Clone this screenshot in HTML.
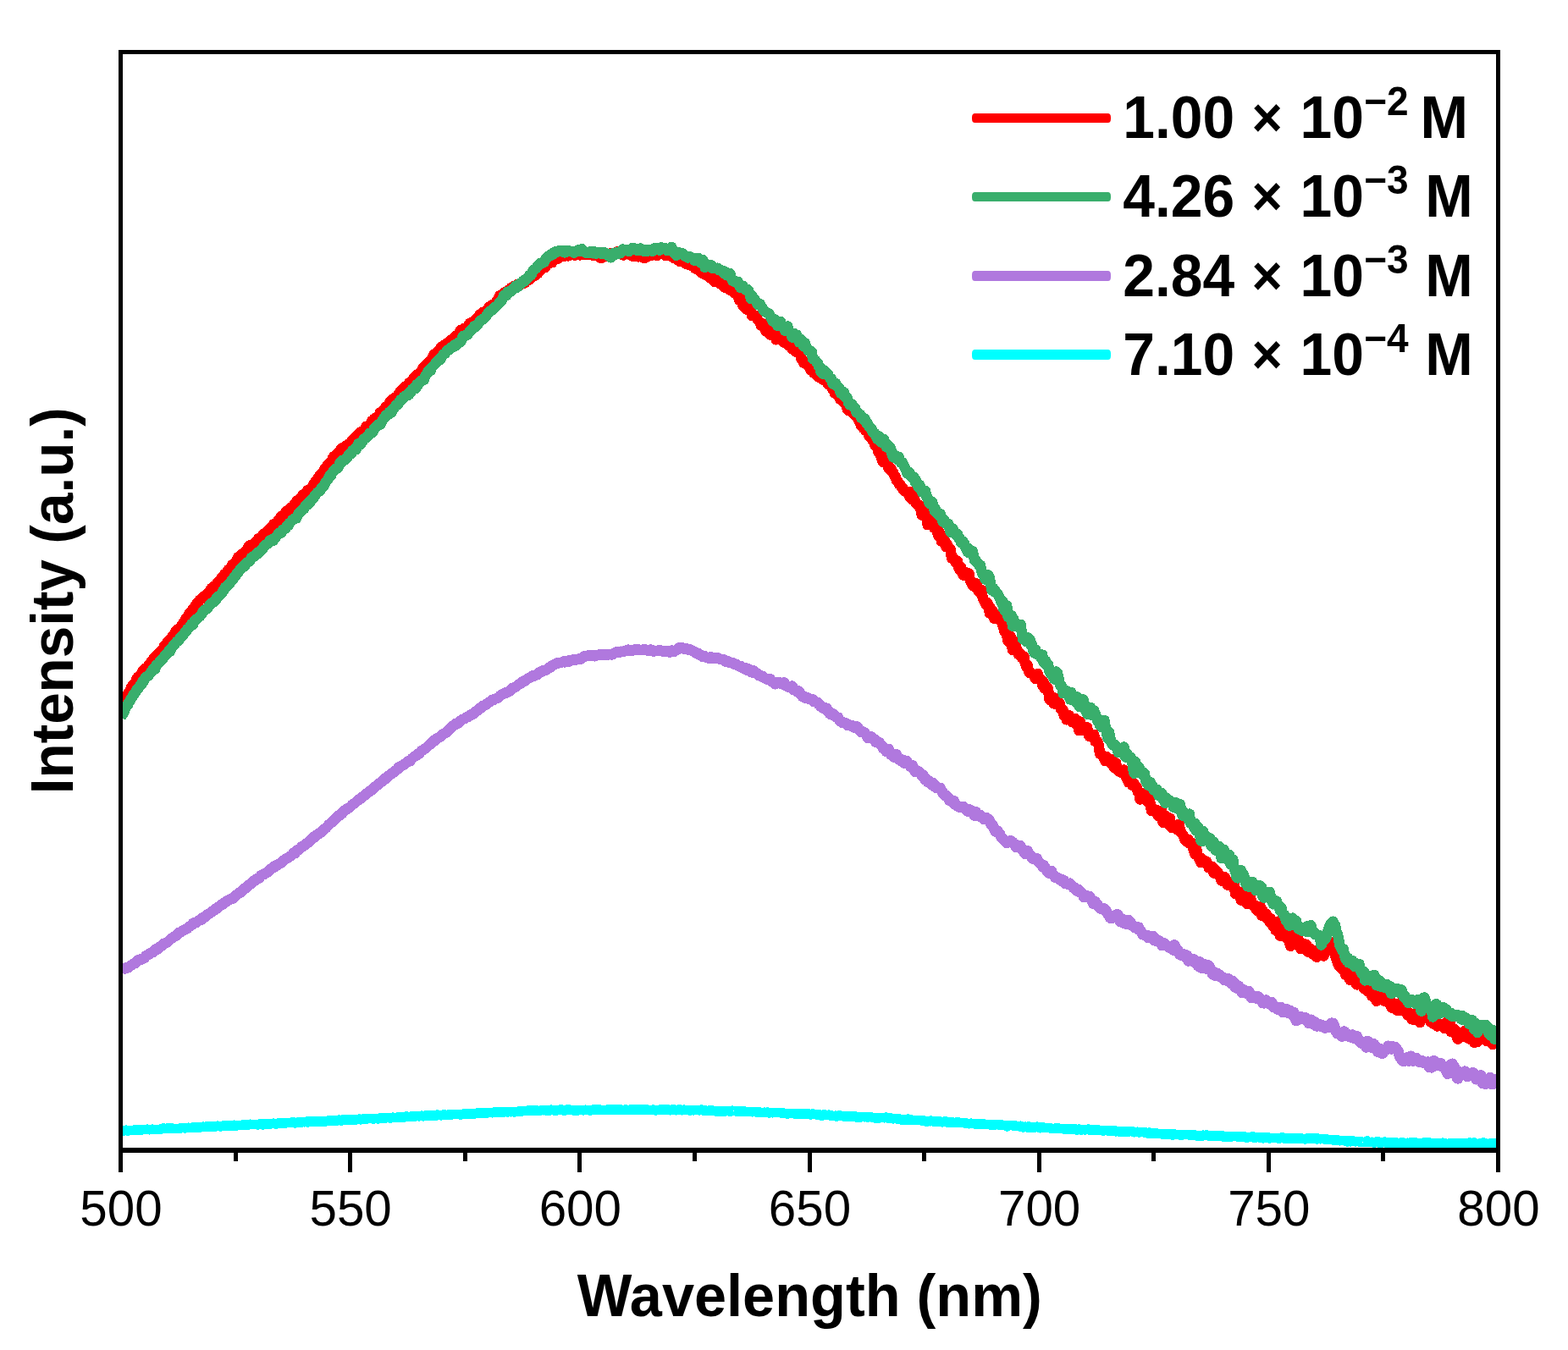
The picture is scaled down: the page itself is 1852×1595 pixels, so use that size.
<!DOCTYPE html>
<html lang="en"><head><meta charset="utf-8"><title>Emission spectra</title>
<style>html,body{margin:0;padding:0;background:#fff;}svg{display:block;}text{font-family:"Liberation Sans",sans-serif;fill:#000;}.b{font-weight:bold;}</style></head><body>
<svg width="1852" height="1595" viewBox="0 0 1852 1595" role="img" aria-label="Emission spectra at four concentrations">
<rect x="0" y="0" width="1852" height="1595" fill="#fff"/>
<defs><clipPath id="plot"><rect x="142.5" y="61.5" width="1627.0" height="1297.5"/></clipPath></defs>
<g clip-path="url(#plot)" fill="none" stroke-linejoin="round" stroke-linecap="butt" stroke-width="11.5" shape-rendering="crispEdges">
<path stroke="#ff0000" stroke-width="12.5" d="M142.5,836.4 L143.9,833.1 L145.2,830.2 L146.6,826.0 L147.9,825.0 L149.3,822.9 L150.6,820.3 L152.0,818.5 L153.3,816.4 L154.7,813.0 L156.1,810.6 L157.4,808.7 L158.8,807.6 L160.1,805.7 L161.5,802.2 L162.8,799.9 L164.2,799.4 L165.5,798.6 L166.9,795.8 L168.3,793.2 L169.6,792.7 L171.0,790.4 L172.3,789.3 L173.7,788.6 L175.0,786.6 L176.4,784.4 L177.8,783.3 L179.1,780.9 L180.5,779.5 L181.8,777.8 L183.2,776.5 L184.5,774.9 L185.9,773.5 L187.2,771.9 L188.6,770.6 L190.0,769.1 L191.3,767.7 L192.7,766.9 L194.0,763.2 L195.4,763.0 L196.7,760.9 L198.1,758.0 L199.4,756.9 L200.8,755.7 L202.2,754.8 L203.5,751.6 L204.9,750.4 L206.2,748.9 L207.6,745.7 L208.9,743.9 L210.3,743.7 L211.6,742.5 L213.0,741.1 L214.4,739.0 L215.7,737.0 L217.1,735.0 L218.4,733.9 L219.8,730.7 L221.1,728.9 L222.5,727.6 L223.8,724.2 L225.2,724.1 L226.6,721.3 L227.9,719.4 L229.3,719.5 L230.6,715.9 L232.0,713.6 L233.3,713.6 L234.7,710.3 L236.1,708.6 L237.4,708.0 L238.8,706.7 L240.1,705.5 L241.5,704.1 L242.8,703.8 L244.2,702.7 L245.5,701.3 L246.9,699.1 L248.3,697.5 L249.6,695.2 L251.0,695.6 L252.3,692.9 L253.7,692.9 L255.0,692.9 L256.4,689.3 L257.7,687.3 L259.1,685.9 L260.5,685.4 L261.8,682.7 L263.2,681.2 L264.5,679.4 L265.9,677.8 L267.2,677.4 L268.6,674.3 L269.9,672.9 L271.3,671.6 L272.7,670.5 L274.0,667.3 L275.4,667.0 L276.7,665.4 L278.1,664.0 L279.4,661.9 L280.8,658.8 L282.2,657.6 L283.5,657.6 L284.9,655.9 L286.2,654.3 L287.6,654.4 L288.9,653.9 L290.3,650.9 L291.6,650.7 L293.0,646.8 L294.4,644.6 L295.7,645.7 L297.1,644.4 L298.4,643.6 L299.8,642.6 L301.1,640.9 L302.5,640.2 L303.8,638.8 L305.2,636.2 L306.6,635.9 L307.9,635.1 L309.3,635.2 L310.6,632.0 L312.0,630.9 L313.3,629.5 L314.7,628.3 L316.0,628.5 L317.4,626.6 L318.8,624.3 L320.1,623.2 L321.5,622.6 L322.8,619.9 L324.2,618.7 L325.5,619.0 L326.9,617.6 L328.2,615.3 L329.6,613.4 L331.0,612.2 L332.3,609.8 L333.7,610.1 L335.0,608.9 L336.4,607.3 L337.7,604.7 L339.1,603.5 L340.5,603.3 L341.8,602.1 L343.2,600.1 L344.5,599.4 L345.9,598.7 L347.2,596.1 L348.6,594.5 L349.9,592.9 L351.3,591.2 L352.7,591.4 L354.0,590.3 L355.4,588.7 L356.7,586.0 L358.1,584.3 L359.4,583.7 L360.8,582.2 L362.1,581.0 L363.5,579.0 L364.9,578.4 L366.2,578.1 L367.6,576.6 L368.9,575.0 L370.3,572.1 L371.6,570.7 L373.0,568.2 L374.3,567.2 L375.7,564.8 L377.1,562.7 L378.4,560.8 L379.8,560.2 L381.1,558.4 L382.5,556.4 L383.8,553.5 L385.2,552.4 L386.5,549.6 L387.9,549.8 L389.3,547.4 L390.6,545.5 L392.0,543.6 L393.3,540.7 L394.7,538.9 L396.0,538.6 L397.4,538.8 L398.8,535.6 L400.1,533.9 L401.5,533.3 L402.8,530.8 L404.2,529.1 L405.5,528.9 L406.9,528.4 L408.2,527.0 L409.6,527.3 L411.0,525.3 L412.3,524.1 L413.7,524.1 L415.0,523.3 L416.4,519.4 L417.7,518.3 L419.1,518.7 L420.4,515.7 L421.8,514.2 L423.2,512.8 L424.5,511.4 L425.9,510.3 L427.2,510.2 L428.6,510.3 L429.9,509.5 L431.3,507.1 L432.6,503.8 L434.0,503.6 L435.4,502.6 L436.7,501.8 L438.1,500.3 L439.4,497.4 L440.8,497.5 L442.1,494.6 L443.5,493.7 L444.9,493.5 L446.2,492.4 L447.6,491.9 L448.9,487.5 L450.3,487.2 L451.6,486.6 L453.0,484.3 L454.3,483.3 L455.7,480.6 L457.1,480.0 L458.4,478.9 L459.8,476.0 L461.1,474.4 L462.5,473.4 L463.8,471.6 L465.2,471.5 L466.5,469.8 L467.9,469.2 L469.3,468.0 L470.6,465.6 L472.0,463.8 L473.3,461.7 L474.7,460.3 L476.0,459.0 L477.4,458.7 L478.7,456.6 L480.1,455.8 L481.5,454.8 L482.8,452.9 L484.2,451.6 L485.5,451.7 L486.9,450.9 L488.2,447.5 L489.6,445.9 L490.9,444.4 L492.3,443.0 L493.7,443.0 L495.0,441.2 L496.4,439.9 L497.7,438.9 L499.1,435.6 L500.4,433.6 L501.8,432.3 L503.2,431.7 L504.5,429.4 L505.9,428.2 L507.2,427.3 L508.6,425.9 L509.9,423.8 L511.3,421.0 L512.6,418.6 L514.0,419.3 L515.4,418.0 L516.7,415.3 L518.1,413.9 L519.4,412.7 L520.8,410.3 L522.1,410.3 L523.5,408.7 L524.8,407.6 L526.2,407.4 L527.6,405.8 L528.9,405.0 L530.3,404.0 L531.6,402.6 L533.0,401.5 L534.3,402.0 L535.7,399.7 L537.0,399.7 L538.4,396.9 L539.8,396.6 L541.1,395.4 L542.5,393.4 L543.8,390.3 L545.2,392.4 L546.5,390.0 L547.9,388.2 L549.2,388.1 L550.6,387.2 L552.0,386.2 L553.3,384.6 L554.7,382.2 L556.0,382.7 L557.4,380.7 L558.7,380.0 L560.1,379.5 L561.5,379.0 L562.8,376.8 L564.2,375.2 L565.5,374.1 L566.9,371.5 L568.2,370.9 L569.6,369.8 L570.9,368.5 L572.3,368.5 L573.7,367.3 L575.0,367.7 L576.4,367.0 L577.7,362.7 L579.1,362.4 L580.4,360.7 L581.8,360.6 L583.1,359.3 L584.5,358.5 L585.9,356.8 L587.2,355.6 L588.6,353.3 L589.9,349.6 L591.3,348.8 L592.6,348.1 L594.0,347.2 L595.3,345.6 L596.7,346.7 L598.1,344.7 L599.4,344.5 L600.8,342.6 L602.1,343.1 L603.5,340.3 L604.8,340.4 L606.2,338.5 L607.5,339.0 L608.9,339.9 L610.3,336.7 L611.6,335.9 L613.0,336.5 L614.3,335.8 L615.7,334.0 L617.0,335.3 L618.4,334.3 L619.8,334.4 L621.1,333.0 L622.5,330.4 L623.8,329.7 L625.2,330.7 L626.5,327.6 L627.9,326.6 L629.2,326.8 L630.6,326.5 L632.0,325.3 L633.3,322.0 L634.7,323.6 L636.0,321.5 L637.4,319.9 L638.7,318.9 L640.1,317.7 L641.4,315.9 L642.8,315.3 L644.2,315.9 L645.5,312.7 L646.9,309.8 L648.2,311.2 L649.6,310.8 L650.9,310.0 L652.3,310.1 L653.6,307.1 L655.0,306.3 L656.4,306.1 L657.7,306.2 L659.1,305.7 L660.4,303.4 L661.8,301.9 L663.1,302.4 L664.5,301.0 L665.9,302.9 L667.2,301.9 L668.6,301.1 L669.9,300.3 L671.3,302.2 L672.6,301.5 L674.0,300.2 L675.3,300.8 L676.7,300.3 L678.1,300.6 L679.4,301.5 L680.8,300.2 L682.1,300.4 L683.5,300.7 L684.8,301.4 L686.2,301.1 L687.5,300.4 L688.9,299.6 L690.3,300.4 L691.6,299.4 L693.0,300.8 L694.3,300.8 L695.7,301.2 L697.0,300.4 L698.4,299.8 L699.7,299.8 L701.1,302.1 L702.5,301.8 L703.8,301.9 L705.2,300.9 L706.5,302.9 L707.9,300.4 L709.2,304.6 L710.6,304.6 L711.9,304.0 L713.3,302.1 L714.7,301.3 L716.0,302.6 L717.4,301.7 L718.7,301.6 L720.1,302.5 L721.4,302.0 L722.8,298.9 L724.2,298.9 L725.5,299.0 L726.9,299.1 L728.2,297.8 L729.6,297.3 L730.9,298.7 L732.3,299.2 L733.6,300.5 L735.0,299.9 L736.4,301.5 L737.7,298.5 L739.1,297.8 L740.4,299.8 L741.8,299.8 L743.1,299.0 L744.5,300.9 L745.8,302.1 L747.2,302.8 L748.6,301.2 L749.9,301.3 L751.3,302.0 L752.6,302.2 L754.0,303.5 L755.3,302.4 L756.7,303.0 L758.0,300.5 L759.4,303.1 L760.8,305.2 L762.1,303.4 L763.5,303.9 L764.8,300.9 L766.2,301.1 L767.5,299.8 L768.9,301.1 L770.2,301.7 L771.6,299.1 L773.0,298.6 L774.3,298.8 L775.7,302.1 L777.0,300.1 L778.4,299.2 L779.7,299.5 L781.1,299.5 L782.5,299.0 L783.8,297.7 L785.2,298.4 L786.5,301.9 L787.9,301.6 L789.2,300.8 L790.6,300.0 L791.9,301.8 L793.3,303.0 L794.7,302.8 L796.0,305.1 L797.4,304.5 L798.7,305.0 L800.1,307.0 L801.4,307.2 L802.8,308.6 L804.1,307.8 L805.5,307.6 L806.9,309.2 L808.2,309.8 L809.6,311.5 L810.9,311.5 L812.3,311.3 L813.6,312.3 L815.0,313.5 L816.3,311.9 L817.7,313.1 L819.1,314.0 L820.4,316.7 L821.8,315.9 L823.1,318.1 L824.5,316.5 L825.8,318.1 L827.2,321.2 L828.5,320.8 L829.9,323.3 L831.3,320.4 L832.6,322.9 L834.0,325.1 L835.3,325.7 L836.7,324.6 L838.0,328.0 L839.4,325.5 L840.8,329.8 L842.1,331.1 L843.5,332.6 L844.8,331.8 L846.2,330.6 L847.5,331.7 L848.9,332.8 L850.2,335.1 L851.6,334.9 L853.0,336.2 L854.3,337.4 L855.7,339.7 L857.0,335.6 L858.4,337.3 L859.7,340.7 L861.1,342.3 L862.4,341.4 L863.8,342.3 L865.2,344.0 L866.5,345.7 L867.9,346.1 L869.2,347.0 L870.6,347.6 L871.9,350.0 L873.3,354.8 L874.6,353.3 L876.0,356.8 L877.4,360.9 L878.7,360.0 L880.1,364.2 L881.4,362.6 L882.8,365.9 L884.1,365.6 L885.5,364.3 L886.9,368.0 L888.2,373.2 L889.6,371.4 L890.9,373.5 L892.3,373.2 L893.6,374.1 L895.0,378.1 L896.3,379.3 L897.7,381.7 L899.1,384.8 L900.4,382.1 L901.8,382.8 L903.1,385.6 L904.5,391.4 L905.8,389.0 L907.2,388.3 L908.5,391.0 L909.9,395.7 L911.3,392.8 L912.6,392.7 L914.0,394.6 L915.3,397.1 L916.7,401.3 L918.0,396.6 L919.4,394.8 L920.7,399.0 L922.1,401.8 L923.5,397.6 L924.8,400.0 L926.2,404.9 L927.5,403.8 L928.9,405.8 L930.2,406.6 L931.6,408.3 L932.9,409.1 L934.3,409.5 L935.7,412.4 L937.0,410.4 L938.4,411.7 L939.7,415.4 L941.1,413.9 L942.4,414.6 L943.8,415.5 L945.2,416.6 L946.5,424.3 L947.9,424.9 L949.2,428.7 L950.6,429.2 L951.9,429.0 L953.3,429.6 L954.6,432.4 L956.0,433.9 L957.4,437.3 L958.7,435.7 L960.1,438.1 L961.4,440.7 L962.8,440.6 L964.1,441.3 L965.5,444.1 L966.8,445.6 L968.2,445.2 L969.6,445.9 L970.9,445.8 L972.3,448.8 L973.6,449.1 L975.0,446.4 L976.3,449.3 L977.7,453.3 L979.0,454.5 L980.4,452.9 L981.8,457.0 L983.1,459.3 L984.5,460.7 L985.8,464.4 L987.2,462.4 L988.5,464.8 L989.9,465.2 L991.2,469.2 L992.6,472.2 L994.0,472.5 L995.3,474.3 L996.7,472.7 L998.0,476.6 L999.4,475.1 L1000.7,483.3 L1002.1,485.1 L1003.5,479.7 L1004.8,476.7 L1006.2,486.9 L1007.5,486.4 L1008.9,489.8 L1010.2,488.2 L1011.6,491.8 L1012.9,492.9 L1014.3,497.1 L1015.7,497.6 L1017.0,503.2 L1018.4,501.0 L1019.7,506.2 L1021.1,506.6 L1022.4,509.0 L1023.8,506.4 L1025.1,506.5 L1026.5,515.6 L1027.9,514.4 L1029.2,517.2 L1030.6,520.3 L1031.9,521.2 L1033.3,525.8 L1034.6,524.9 L1036.0,526.5 L1037.3,534.2 L1038.7,533.7 L1040.1,538.4 L1041.4,541.5 L1042.8,545.6 L1044.1,545.5 L1045.5,540.7 L1046.8,543.8 L1048.2,547.3 L1049.6,553.6 L1050.9,554.6 L1052.3,553.6 L1053.6,557.3 L1055.0,557.9 L1056.3,561.6 L1057.7,563.4 L1059.0,567.8 L1060.4,568.8 L1061.8,572.1 L1063.1,572.2 L1064.5,575.4 L1065.8,575.8 L1067.2,579.2 L1068.5,580.5 L1069.9,581.0 L1071.2,581.5 L1072.6,583.1 L1074.0,586.7 L1075.3,581.2 L1076.7,589.7 L1078.0,584.2 L1079.4,588.4 L1080.7,591.2 L1082.1,595.3 L1083.4,596.2 L1084.8,596.4 L1086.2,598.0 L1087.5,602.1 L1088.9,608.5 L1090.2,606.0 L1091.6,599.2 L1092.9,603.6 L1094.3,609.3 L1095.6,620.2 L1097.0,613.3 L1098.4,612.8 L1099.7,617.8 L1101.1,620.0 L1102.4,617.1 L1103.8,624.2 L1105.1,621.7 L1106.5,624.7 L1107.9,632.3 L1109.2,628.2 L1110.6,630.7 L1111.9,639.5 L1113.3,637.9 L1114.6,636.1 L1116.0,639.1 L1117.3,646.0 L1118.7,643.0 L1120.1,646.1 L1121.4,647.2 L1122.8,649.9 L1124.1,659.6 L1125.5,660.1 L1126.8,659.9 L1128.2,664.0 L1129.5,663.3 L1130.9,662.6 L1132.3,670.6 L1133.6,673.6 L1135.0,670.0 L1136.3,674.5 L1137.7,679.7 L1139.0,679.2 L1140.4,679.9 L1141.7,676.5 L1143.1,679.8 L1144.5,677.4 L1145.8,686.2 L1147.2,686.8 L1148.5,691.7 L1149.9,688.5 L1151.2,693.1 L1152.6,689.1 L1153.9,692.0 L1155.3,697.6 L1156.7,699.7 L1158.0,700.2 L1159.4,697.0 L1160.7,706.2 L1162.1,709.0 L1163.4,711.9 L1164.8,714.4 L1166.2,712.0 L1167.5,715.1 L1168.9,724.7 L1170.2,718.7 L1171.6,721.4 L1172.9,722.1 L1174.3,730.6 L1175.6,730.6 L1177.0,728.1 L1178.4,730.8 L1179.7,731.3 L1181.1,730.3 L1182.4,730.4 L1183.8,738.0 L1185.1,740.7 L1186.5,746.0 L1187.8,746.2 L1189.2,750.3 L1190.6,757.8 L1191.9,752.2 L1193.3,751.2 L1194.6,759.7 L1196.0,768.0 L1197.3,761.7 L1198.7,758.4 L1200.0,764.2 L1201.4,767.6 L1202.8,773.2 L1204.1,771.3 L1205.5,774.3 L1206.8,777.0 L1208.2,775.1 L1209.5,775.8 L1210.9,783.8 L1212.2,787.8 L1213.6,785.5 L1215.0,793.1 L1216.3,795.1 L1217.7,794.7 L1219.0,796.3 L1220.4,797.2 L1221.7,799.8 L1223.1,802.2 L1224.5,801.6 L1225.8,796.0 L1227.2,801.5 L1228.5,803.0 L1229.9,803.0 L1231.2,810.0 L1232.6,806.1 L1233.9,813.6 L1235.3,813.3 L1236.7,811.7 L1238.0,813.8 L1239.4,825.7 L1240.7,827.6 L1242.1,822.7 L1243.4,826.6 L1244.8,831.4 L1246.1,825.2 L1247.5,825.7 L1248.9,831.3 L1250.2,832.2 L1251.6,830.7 L1252.9,837.7 L1254.3,837.8 L1255.6,839.2 L1257.0,846.3 L1258.3,843.7 L1259.7,850.3 L1261.1,846.9 L1262.4,844.9 L1263.8,847.1 L1265.1,851.4 L1266.5,853.1 L1267.8,853.5 L1269.2,848.8 L1270.6,849.6 L1271.9,853.8 L1273.3,858.9 L1274.6,863.2 L1276.0,852.7 L1277.3,856.9 L1278.7,859.1 L1280.0,860.8 L1281.4,863.1 L1282.8,861.0 L1284.1,859.4 L1285.5,867.5 L1286.8,870.2 L1288.2,867.5 L1289.5,868.6 L1290.9,868.7 L1292.2,867.8 L1293.6,875.9 L1295.0,876.3 L1296.3,876.1 L1297.7,880.0 L1299.0,890.4 L1300.4,891.4 L1301.7,891.9 L1303.1,893.3 L1304.4,897.3 L1305.8,899.2 L1307.2,894.0 L1308.5,896.7 L1309.9,897.7 L1311.2,901.3 L1312.6,902.4 L1313.9,897.0 L1315.3,906.2 L1316.6,907.6 L1318.0,901.4 L1319.4,909.7 L1320.7,910.5 L1322.1,911.7 L1323.4,911.9 L1324.8,913.2 L1326.1,912.5 L1327.5,909.6 L1328.9,913.4 L1330.2,918.7 L1331.6,920.7 L1332.9,924.3 L1334.3,924.3 L1335.6,918.3 L1337.0,927.6 L1338.3,927.4 L1339.7,925.8 L1341.1,930.2 L1342.4,929.5 L1343.8,935.6 L1345.1,934.8 L1346.5,944.4 L1347.8,941.8 L1349.2,940.1 L1350.5,941.0 L1351.9,937.5 L1353.3,941.7 L1354.6,944.8 L1356.0,947.8 L1357.3,943.5 L1358.7,950.2 L1360.0,957.9 L1361.4,955.0 L1362.7,955.8 L1364.1,959.0 L1365.5,956.8 L1366.8,957.9 L1368.2,964.1 L1369.5,964.3 L1370.9,960.0 L1372.2,958.0 L1373.6,971.8 L1374.9,971.1 L1376.3,963.7 L1377.7,968.4 L1379.0,973.0 L1380.4,972.7 L1381.7,966.5 L1383.1,977.3 L1384.4,978.0 L1385.8,975.0 L1387.2,977.8 L1388.5,976.6 L1389.9,976.1 L1391.2,980.9 L1392.6,973.7 L1393.9,981.6 L1395.3,983.8 L1396.6,985.5 L1398.0,987.7 L1399.4,991.6 L1400.7,993.9 L1402.1,994.2 L1403.4,991.9 L1404.8,996.6 L1406.1,996.2 L1407.5,995.6 L1408.8,1001.8 L1410.2,1004.9 L1411.6,1009.4 L1412.9,1001.2 L1414.3,1008.6 L1415.6,1013.6 L1417.0,1013.5 L1418.3,1019.1 L1419.7,1014.4 L1421.0,1017.4 L1422.4,1017.6 L1423.8,1019.3 L1425.1,1017.7 L1426.5,1020.6 L1427.8,1025.2 L1429.2,1025.2 L1430.5,1026.3 L1431.9,1023.8 L1433.3,1031.4 L1434.6,1027.3 L1436.0,1028.3 L1437.3,1031.9 L1438.7,1031.1 L1440.0,1034.5 L1441.4,1034.9 L1442.7,1040.6 L1444.1,1039.6 L1445.5,1039.3 L1446.8,1036.5 L1448.2,1040.8 L1449.5,1045.4 L1450.9,1045.4 L1452.2,1041.7 L1453.6,1043.0 L1454.9,1045.8 L1456.3,1048.3 L1457.7,1045.2 L1459.0,1055.9 L1460.4,1054.0 L1461.7,1053.9 L1463.1,1053.5 L1464.4,1055.4 L1465.8,1063.6 L1467.1,1057.3 L1468.5,1056.9 L1469.9,1056.8 L1471.2,1059.0 L1472.6,1067.7 L1473.9,1063.8 L1475.3,1063.3 L1476.6,1060.1 L1478.0,1064.7 L1479.3,1069.3 L1480.7,1068.6 L1482.1,1069.3 L1483.4,1074.5 L1484.8,1076.0 L1486.1,1074.7 L1487.5,1072.8 L1488.8,1070.8 L1490.2,1081.9 L1491.6,1075.6 L1492.9,1080.7 L1494.3,1081.3 L1495.6,1079.9 L1497.0,1086.0 L1498.3,1083.5 L1499.7,1089.7 L1501.0,1085.5 L1502.4,1089.4 L1503.8,1094.9 L1505.1,1089.5 L1506.5,1098.7 L1507.8,1099.0 L1509.2,1088.7 L1510.5,1098.8 L1511.9,1105.7 L1513.2,1100.3 L1514.6,1099.6 L1516.0,1102.9 L1517.3,1097.2 L1518.7,1103.0 L1520.0,1109.0 L1521.4,1106.1 L1522.7,1111.3 L1524.1,1117.8 L1525.4,1106.1 L1526.8,1103.2 L1528.2,1107.9 L1529.5,1114.4 L1530.9,1115.7 L1532.2,1111.8 L1533.6,1110.3 L1534.9,1112.1 L1536.3,1121.2 L1537.6,1115.6 L1539.0,1114.6 L1540.4,1120.8 L1541.7,1119.1 L1543.1,1116.2 L1544.4,1124.5 L1545.8,1124.2 L1547.1,1120.6 L1548.5,1121.4 L1549.9,1127.0 L1551.2,1124.8 L1552.6,1126.2 L1553.9,1129.5 L1555.3,1130.9 L1556.6,1122.1 L1558.0,1123.8 L1559.3,1125.6 L1560.7,1126.8 L1562.1,1128.6 L1563.4,1129.4 L1564.8,1125.0 L1566.1,1122.0 L1567.5,1123.2 L1568.8,1121.2 L1570.2,1120.1 L1571.5,1115.6 L1572.9,1113.2 L1574.3,1116.2 L1575.6,1121.5 L1577.0,1128.0 L1578.3,1132.5 L1579.7,1136.3 L1581.0,1140.3 L1582.4,1142.0 L1583.7,1143.7 L1585.1,1143.1 L1586.5,1145.7 L1587.8,1146.3 L1589.2,1151.8 L1590.5,1149.5 L1591.9,1151.2 L1593.2,1154.4 L1594.6,1158.0 L1595.9,1155.0 L1597.3,1156.2 L1598.7,1155.7 L1600.0,1154.1 L1601.4,1162.4 L1602.7,1163.4 L1604.1,1156.8 L1605.4,1157.0 L1606.8,1163.3 L1608.2,1161.7 L1609.5,1159.8 L1610.9,1167.9 L1612.2,1165.9 L1613.6,1165.9 L1614.9,1170.8 L1616.3,1169.1 L1617.6,1171.6 L1619.0,1174.1 L1620.4,1177.0 L1621.7,1173.4 L1623.1,1178.5 L1624.4,1178.5 L1625.8,1183.0 L1627.1,1179.7 L1628.5,1176.0 L1629.8,1175.6 L1631.2,1174.0 L1632.6,1177.6 L1633.9,1179.0 L1635.3,1182.7 L1636.6,1181.7 L1638.0,1178.4 L1639.3,1184.5 L1640.7,1182.4 L1642.0,1184.1 L1643.4,1189.7 L1644.8,1191.2 L1646.1,1185.3 L1647.5,1186.1 L1648.8,1192.5 L1650.2,1193.7 L1651.5,1192.7 L1652.9,1194.1 L1654.3,1184.9 L1655.6,1188.5 L1657.0,1187.3 L1658.3,1189.3 L1659.7,1191.6 L1661.0,1195.4 L1662.4,1199.4 L1663.7,1199.7 L1665.1,1198.7 L1666.5,1197.6 L1667.8,1204.3 L1669.2,1204.3 L1670.5,1197.7 L1671.9,1201.8 L1673.2,1205.4 L1674.6,1200.8 L1675.9,1202.9 L1677.3,1208.0 L1678.7,1203.1 L1680.0,1201.6 L1681.4,1201.6 L1682.7,1198.5 L1684.1,1199.5 L1685.4,1198.7 L1686.8,1201.2 L1688.1,1201.1 L1689.5,1207.3 L1690.9,1206.5 L1692.2,1209.4 L1693.6,1204.1 L1694.9,1206.7 L1696.3,1210.7 L1697.6,1212.5 L1699.0,1208.9 L1700.3,1209.9 L1701.7,1211.8 L1703.1,1211.2 L1704.4,1211.1 L1705.8,1214.8 L1707.1,1210.7 L1708.5,1207.3 L1709.8,1211.7 L1711.2,1216.3 L1712.6,1209.0 L1713.9,1219.0 L1715.3,1219.2 L1716.6,1219.9 L1718.0,1216.1 L1719.3,1217.7 L1720.7,1225.1 L1722.0,1227.6 L1723.4,1223.8 L1724.8,1219.8 L1726.1,1219.8 L1727.5,1225.2 L1728.8,1220.3 L1730.2,1217.9 L1731.5,1221.0 L1732.9,1226.3 L1734.2,1221.8 L1735.6,1225.5 L1737.0,1228.1 L1738.3,1228.2 L1739.7,1227.8 L1741.0,1231.5 L1742.4,1231.6 L1743.7,1223.9 L1745.1,1231.2 L1746.4,1229.5 L1747.8,1226.9 L1749.2,1223.9 L1750.5,1223.3 L1751.9,1216.2 L1753.2,1222.2 L1754.6,1228.2 L1755.9,1230.1 L1757.3,1226.7 L1758.6,1220.4 L1760.0,1223.2 L1761.4,1227.5 L1762.7,1234.0 L1764.1,1226.2 L1765.4,1228.8 L1766.8,1232.5 L1768.1,1233.4 L1769.5,1231.2"/>
<path stroke="#39ae6c" stroke-width="12.5" d="M142.5,848.0 L143.9,844.3 L145.2,843.6 L146.6,840.6 L147.9,837.6 L149.3,834.6 L150.6,833.5 L152.0,830.0 L153.3,828.5 L154.7,825.7 L156.1,823.6 L157.4,821.3 L158.8,819.7 L160.1,817.9 L161.5,814.4 L162.8,813.6 L164.2,812.0 L165.5,810.2 L166.9,808.9 L168.3,804.9 L169.6,805.0 L171.0,801.5 L172.3,799.8 L173.7,799.2 L175.0,798.5 L176.4,796.8 L177.8,795.0 L179.1,793.6 L180.5,790.9 L181.8,789.9 L183.2,790.6 L184.5,785.9 L185.9,784.9 L187.2,784.0 L188.6,781.9 L190.0,780.7 L191.3,779.5 L192.7,777.7 L194.0,776.1 L195.4,773.8 L196.7,773.3 L198.1,771.1 L199.4,768.8 L200.8,769.6 L202.2,766.7 L203.5,764.5 L204.9,761.8 L206.2,761.6 L207.6,759.5 L208.9,757.8 L210.3,757.4 L211.6,756.0 L213.0,753.4 L214.4,752.5 L215.7,751.1 L217.1,749.1 L218.4,746.8 L219.8,746.1 L221.1,743.3 L222.5,742.7 L223.8,741.3 L225.2,738.7 L226.6,737.0 L227.9,738.2 L229.3,734.0 L230.6,733.0 L232.0,731.7 L233.3,730.7 L234.7,729.2 L236.1,728.2 L237.4,726.7 L238.8,724.5 L240.1,721.8 L241.5,720.9 L242.8,720.4 L244.2,719.2 L245.5,718.3 L246.9,716.0 L248.3,713.6 L249.6,712.5 L251.0,711.9 L252.3,711.4 L253.7,710.2 L255.0,708.7 L256.4,705.6 L257.7,704.4 L259.1,703.9 L260.5,702.5 L261.8,701.4 L263.2,698.4 L264.5,697.7 L265.9,693.8 L267.2,693.1 L268.6,692.4 L269.9,690.4 L271.3,689.5 L272.7,687.2 L274.0,685.3 L275.4,684.1 L276.7,681.2 L278.1,681.0 L279.4,678.1 L280.8,676.9 L282.2,675.2 L283.5,673.0 L284.9,671.7 L286.2,670.5 L287.6,668.5 L288.9,669.1 L290.3,665.8 L291.6,664.5 L293.0,664.3 L294.4,662.8 L295.7,661.9 L297.1,658.7 L298.4,657.8 L299.8,657.1 L301.1,657.0 L302.5,654.4 L303.8,653.3 L305.2,653.8 L306.6,651.9 L307.9,650.3 L309.3,648.7 L310.6,648.4 L312.0,645.0 L313.3,643.9 L314.7,643.1 L316.0,642.6 L317.4,641.5 L318.8,638.5 L320.1,638.6 L321.5,637.3 L322.8,638.8 L324.2,636.0 L325.5,635.1 L326.9,633.0 L328.2,631.6 L329.6,629.9 L331.0,629.8 L332.3,629.4 L333.7,626.1 L335.0,625.5 L336.4,624.8 L337.7,624.0 L339.1,621.2 L340.5,621.0 L341.8,617.9 L343.2,617.0 L344.5,615.3 L345.9,613.8 L347.2,613.5 L348.6,612.0 L349.9,612.3 L351.3,609.0 L352.7,606.2 L354.0,606.1 L355.4,604.4 L356.7,602.1 L358.1,601.9 L359.4,601.0 L360.8,597.2 L362.1,595.9 L363.5,596.0 L364.9,593.4 L366.2,593.5 L367.6,591.1 L368.9,589.6 L370.3,588.1 L371.6,585.5 L373.0,584.4 L374.3,582.6 L375.7,581.1 L377.1,580.8 L378.4,579.2 L379.8,576.7 L381.1,575.1 L382.5,574.4 L383.8,571.5 L385.2,568.8 L386.5,567.7 L387.9,564.9 L389.3,562.0 L390.6,562.5 L392.0,558.9 L393.3,557.4 L394.7,556.2 L396.0,554.0 L397.4,554.1 L398.8,553.2 L400.1,550.5 L401.5,547.0 L402.8,546.7 L404.2,544.1 L405.5,544.1 L406.9,543.7 L408.2,542.0 L409.6,541.4 L411.0,539.4 L412.3,536.9 L413.7,535.7 L415.0,535.9 L416.4,532.2 L417.7,532.0 L419.1,530.0 L420.4,531.2 L421.8,527.5 L423.2,524.4 L424.5,525.5 L425.9,524.9 L427.2,522.1 L428.6,520.7 L429.9,518.4 L431.3,517.6 L432.6,517.4 L434.0,515.7 L435.4,513.9 L436.7,511.9 L438.1,511.8 L439.4,511.4 L440.8,509.9 L442.1,506.0 L443.5,505.1 L444.9,503.2 L446.2,501.9 L447.6,501.2 L448.9,501.9 L450.3,499.0 L451.6,496.6 L453.0,494.6 L454.3,493.9 L455.7,490.8 L457.1,490.7 L458.4,490.1 L459.8,487.1 L461.1,487.3 L462.5,487.2 L463.8,483.3 L465.2,482.4 L466.5,480.3 L467.9,478.4 L469.3,478.4 L470.6,477.0 L472.0,474.1 L473.3,472.2 L474.7,472.3 L476.0,470.0 L477.4,468.4 L478.7,468.0 L480.1,466.8 L481.5,466.2 L482.8,466.6 L484.2,462.8 L485.5,463.0 L486.9,459.9 L488.2,459.0 L489.6,458.9 L490.9,458.9 L492.3,454.3 L493.7,454.7 L495.0,452.6 L496.4,450.9 L497.7,449.8 L499.1,449.7 L500.4,449.1 L501.8,445.9 L503.2,443.0 L504.5,441.0 L505.9,438.2 L507.2,436.8 L508.6,437.8 L509.9,434.5 L511.3,432.5 L512.6,431.5 L514.0,429.9 L515.4,428.0 L516.7,426.2 L518.1,424.9 L519.4,425.2 L520.8,423.6 L522.1,421.3 L523.5,419.0 L524.8,418.1 L526.2,417.2 L527.6,415.0 L528.9,413.3 L530.3,413.4 L531.6,411.9 L533.0,410.6 L534.3,410.2 L535.7,409.4 L537.0,407.5 L538.4,408.6 L539.8,407.0 L541.1,405.0 L542.5,404.4 L543.8,404.0 L545.2,401.7 L546.5,397.6 L547.9,396.7 L549.2,396.8 L550.6,396.0 L552.0,395.8 L553.3,394.0 L554.7,391.7 L556.0,391.1 L557.4,388.7 L558.7,388.5 L560.1,385.3 L561.5,386.2 L562.8,384.2 L564.2,383.4 L565.5,381.5 L566.9,378.9 L568.2,378.4 L569.6,377.8 L570.9,376.8 L572.3,375.5 L573.7,374.5 L575.0,372.5 L576.4,369.8 L577.7,369.4 L579.1,367.5 L580.4,367.0 L581.8,365.8 L583.1,364.7 L584.5,362.7 L585.9,362.0 L587.2,360.8 L588.6,359.3 L589.9,357.4 L591.3,356.1 L592.6,354.8 L594.0,352.5 L595.3,348.6 L596.7,348.0 L598.1,349.2 L599.4,345.0 L600.8,344.8 L602.1,343.7 L603.5,344.4 L604.8,343.0 L606.2,341.0 L607.5,340.2 L608.9,337.7 L610.3,339.8 L611.6,338.7 L613.0,335.9 L614.3,334.7 L615.7,334.9 L617.0,333.1 L618.4,331.4 L619.8,331.9 L621.1,330.2 L622.5,329.1 L623.8,328.4 L625.2,325.5 L626.5,325.7 L627.9,324.3 L629.2,320.7 L630.6,318.3 L632.0,318.0 L633.3,317.1 L634.7,314.7 L636.0,313.4 L637.4,312.2 L638.7,310.8 L640.1,310.3 L641.4,310.5 L642.8,310.0 L644.2,306.3 L645.5,305.0 L646.9,303.5 L648.2,302.6 L649.6,301.3 L650.9,301.8 L652.3,301.0 L653.6,298.5 L655.0,299.1 L656.4,297.1 L657.7,296.9 L659.1,297.3 L660.4,296.5 L661.8,295.8 L663.1,296.8 L664.5,297.6 L665.9,296.8 L667.2,298.4 L668.6,298.0 L669.9,296.4 L671.3,297.2 L672.6,296.6 L674.0,297.1 L675.3,297.5 L676.7,297.4 L678.1,298.5 L679.4,297.4 L680.8,297.3 L682.1,296.6 L683.5,295.1 L684.8,295.7 L686.2,296.8 L687.5,294.3 L688.9,296.6 L690.3,297.7 L691.6,298.6 L693.0,298.2 L694.3,298.8 L695.7,298.1 L697.0,297.4 L698.4,298.4 L699.7,297.2 L701.1,299.3 L702.5,297.6 L703.8,299.8 L705.2,298.8 L706.5,298.4 L707.9,298.1 L709.2,299.1 L710.6,300.0 L711.9,298.6 L713.3,298.0 L714.7,300.0 L716.0,299.2 L717.4,301.1 L718.7,302.5 L720.1,300.9 L721.4,304.3 L722.8,301.8 L724.2,299.2 L725.5,301.6 L726.9,300.6 L728.2,298.4 L729.6,298.0 L730.9,299.2 L732.3,299.3 L733.6,297.0 L735.0,294.7 L736.4,294.6 L737.7,295.8 L739.1,295.4 L740.4,295.4 L741.8,295.6 L743.1,297.0 L744.5,295.4 L745.8,295.0 L747.2,293.0 L748.6,294.6 L749.9,293.6 L751.3,294.3 L752.6,295.8 L754.0,295.4 L755.3,295.8 L756.7,293.6 L758.0,295.0 L759.4,296.4 L760.8,296.5 L762.1,296.8 L763.5,295.5 L764.8,296.5 L766.2,295.3 L767.5,294.9 L768.9,296.2 L770.2,296.9 L771.6,296.1 L773.0,293.3 L774.3,293.2 L775.7,293.1 L777.0,293.5 L778.4,295.5 L779.7,295.4 L781.1,292.4 L782.5,293.5 L783.8,294.2 L785.2,293.3 L786.5,293.5 L787.9,295.9 L789.2,295.2 L790.6,295.1 L791.9,295.2 L793.3,291.9 L794.7,295.5 L796.0,298.4 L797.4,300.5 L798.7,301.8 L800.1,298.2 L801.4,298.5 L802.8,298.7 L804.1,300.0 L805.5,299.1 L806.9,300.7 L808.2,302.3 L809.6,302.9 L810.9,303.2 L812.3,304.4 L813.6,303.6 L815.0,303.4 L816.3,304.3 L817.7,304.7 L819.1,306.1 L820.4,307.9 L821.8,307.1 L823.1,305.0 L824.5,304.9 L825.8,308.5 L827.2,310.2 L828.5,310.8 L829.9,306.9 L831.3,311.0 L832.6,316.0 L834.0,313.5 L835.3,312.6 L836.7,315.1 L838.0,313.6 L839.4,312.9 L840.8,316.7 L842.1,315.2 L843.5,317.1 L844.8,316.6 L846.2,316.9 L847.5,316.7 L848.9,319.1 L850.2,319.4 L851.6,319.6 L853.0,319.7 L854.3,319.9 L855.7,323.1 L857.0,324.2 L858.4,325.1 L859.7,322.6 L861.1,324.9 L862.4,323.3 L863.8,328.5 L865.2,331.7 L866.5,332.4 L867.9,332.0 L869.2,333.1 L870.6,333.3 L871.9,333.2 L873.3,337.2 L874.6,339.8 L876.0,338.8 L877.4,337.8 L878.7,340.1 L880.1,342.1 L881.4,343.0 L882.8,342.1 L884.1,343.4 L885.5,347.6 L886.9,353.0 L888.2,349.5 L889.6,351.9 L890.9,353.3 L892.3,355.5 L893.6,356.8 L895.0,359.9 L896.3,359.9 L897.7,359.4 L899.1,361.9 L900.4,363.6 L901.8,366.3 L903.1,367.6 L904.5,368.9 L905.8,369.3 L907.2,369.9 L908.5,371.1 L909.9,373.3 L911.3,376.9 L912.6,379.4 L914.0,377.0 L915.3,377.8 L916.7,379.7 L918.0,384.7 L919.4,381.9 L920.7,383.2 L922.1,380.2 L923.5,385.1 L924.8,385.3 L926.2,387.4 L927.5,390.9 L928.9,387.9 L930.2,385.6 L931.6,391.5 L932.9,392.1 L934.3,394.8 L935.7,398.6 L937.0,395.3 L938.4,394.2 L939.7,396.0 L941.1,395.8 L942.4,398.3 L943.8,404.2 L945.2,402.8 L946.5,401.4 L947.9,406.3 L949.2,409.3 L950.6,405.2 L951.9,409.5 L953.3,411.2 L954.6,414.2 L956.0,413.8 L957.4,415.3 L958.7,415.7 L960.1,424.1 L961.4,424.5 L962.8,425.6 L964.1,427.6 L965.5,428.2 L966.8,432.4 L968.2,433.5 L969.6,439.6 L970.9,439.3 L972.3,441.7 L973.6,437.6 L975.0,439.3 L976.3,442.0 L977.7,441.5 L979.0,444.7 L980.4,447.2 L981.8,447.3 L983.1,452.9 L984.5,452.6 L985.8,454.7 L987.2,452.9 L988.5,456.1 L989.9,457.2 L991.2,458.3 L992.6,463.9 L994.0,465.2 L995.3,462.8 L996.7,463.4 L998.0,469.0 L999.4,468.2 L1000.7,469.9 L1002.1,475.8 L1003.5,478.3 L1004.8,477.0 L1006.2,477.5 L1007.5,479.9 L1008.9,480.7 L1010.2,482.7 L1011.6,487.5 L1012.9,488.1 L1014.3,488.8 L1015.7,489.4 L1017.0,493.6 L1018.4,492.7 L1019.7,495.7 L1021.1,494.3 L1022.4,496.7 L1023.8,500.7 L1025.1,500.7 L1026.5,503.9 L1027.9,506.1 L1029.2,506.3 L1030.6,510.5 L1031.9,512.2 L1033.3,512.0 L1034.6,514.7 L1036.0,518.7 L1037.3,516.1 L1038.7,515.6 L1040.1,522.4 L1041.4,520.8 L1042.8,521.6 L1044.1,519.0 L1045.5,523.9 L1046.8,528.1 L1048.2,525.4 L1049.6,529.9 L1050.9,528.3 L1052.3,530.5 L1053.6,536.6 L1055.0,540.4 L1056.3,537.7 L1057.7,541.5 L1059.0,539.1 L1060.4,543.4 L1061.8,539.8 L1063.1,545.1 L1064.5,546.9 L1065.8,546.3 L1067.2,549.9 L1068.5,552.3 L1069.9,554.7 L1071.2,559.0 L1072.6,557.6 L1074.0,558.1 L1075.3,561.7 L1076.7,562.4 L1078.0,564.8 L1079.4,563.4 L1080.7,569.3 L1082.1,567.6 L1083.4,572.6 L1084.8,575.6 L1086.2,572.7 L1087.5,576.7 L1088.9,581.4 L1090.2,579.2 L1091.6,581.4 L1092.9,580.2 L1094.3,586.6 L1095.6,588.0 L1097.0,593.3 L1098.4,595.0 L1099.7,593.9 L1101.1,592.8 L1102.4,599.2 L1103.8,603.6 L1105.1,601.7 L1106.5,606.0 L1107.9,607.7 L1109.2,607.2 L1110.6,607.2 L1111.9,610.7 L1113.3,616.2 L1114.6,613.6 L1116.0,616.0 L1117.3,618.6 L1118.7,618.5 L1120.1,618.9 L1121.4,624.2 L1122.8,628.8 L1124.1,627.0 L1125.5,624.6 L1126.8,628.6 L1128.2,630.0 L1129.5,632.7 L1130.9,630.8 L1132.3,636.4 L1133.6,635.9 L1135.0,640.9 L1136.3,640.6 L1137.7,640.1 L1139.0,642.3 L1140.4,646.6 L1141.7,649.2 L1143.1,652.5 L1144.5,648.4 L1145.8,650.2 L1147.2,654.1 L1148.5,651.1 L1149.9,656.2 L1151.2,662.3 L1152.6,661.7 L1153.9,664.4 L1155.3,665.3 L1156.7,668.3 L1158.0,667.8 L1159.4,674.8 L1160.7,678.2 L1162.1,678.3 L1163.4,684.4 L1164.8,684.1 L1166.2,683.3 L1167.5,679.5 L1168.9,682.9 L1170.2,691.0 L1171.6,697.6 L1172.9,694.6 L1174.3,699.0 L1175.6,698.0 L1177.0,700.1 L1178.4,701.7 L1179.7,704.5 L1181.1,706.7 L1182.4,711.2 L1183.8,709.9 L1185.1,719.0 L1186.5,721.1 L1187.8,714.7 L1189.2,715.6 L1190.6,729.0 L1191.9,724.7 L1193.3,728.4 L1194.6,727.2 L1196.0,739.7 L1197.3,731.6 L1198.7,738.9 L1200.0,740.2 L1201.4,738.4 L1202.8,739.7 L1204.1,739.9 L1205.5,737.8 L1206.8,746.7 L1208.2,755.3 L1209.5,752.0 L1210.9,754.1 L1212.2,758.1 L1213.6,753.3 L1215.0,755.8 L1216.3,755.3 L1217.7,762.7 L1219.0,761.5 L1220.4,769.2 L1221.7,771.7 L1223.1,767.3 L1224.5,771.4 L1225.8,773.6 L1227.2,772.6 L1228.5,774.8 L1229.9,777.6 L1231.2,773.7 L1232.6,782.7 L1233.9,781.7 L1235.3,781.1 L1236.7,787.0 L1238.0,785.1 L1239.4,793.2 L1240.7,795.9 L1242.1,793.7 L1243.4,798.7 L1244.8,802.3 L1246.1,798.2 L1247.5,793.6 L1248.9,795.0 L1250.2,800.0 L1251.6,807.8 L1252.9,811.0 L1254.3,811.1 L1255.6,819.2 L1257.0,816.6 L1258.3,819.3 L1259.7,816.3 L1261.1,817.6 L1262.4,821.5 L1263.8,826.3 L1265.1,817.9 L1266.5,826.7 L1267.8,823.6 L1269.2,828.5 L1270.6,827.5 L1271.9,823.2 L1273.3,824.3 L1274.6,834.7 L1276.0,831.4 L1277.3,829.0 L1278.7,826.3 L1280.0,827.5 L1281.4,836.4 L1282.8,840.7 L1284.1,843.7 L1285.5,840.7 L1286.8,837.6 L1288.2,835.9 L1289.5,844.7 L1290.9,842.7 L1292.2,839.5 L1293.6,843.3 L1295.0,846.6 L1296.3,852.4 L1297.7,851.3 L1299.0,856.7 L1300.4,858.5 L1301.7,857.8 L1303.1,851.2 L1304.4,851.0 L1305.8,860.3 L1307.2,866.6 L1308.5,872.7 L1309.9,865.1 L1311.2,871.8 L1312.6,876.3 L1313.9,879.9 L1315.3,880.0 L1316.6,880.0 L1318.0,881.8 L1319.4,884.9 L1320.7,889.1 L1322.1,884.8 L1323.4,885.1 L1324.8,885.5 L1326.1,889.1 L1327.5,882.6 L1328.9,893.8 L1330.2,894.7 L1331.6,890.7 L1332.9,893.2 L1334.3,894.7 L1335.6,894.9 L1337.0,897.6 L1338.3,908.4 L1339.7,913.9 L1341.1,900.1 L1342.4,904.1 L1343.8,908.8 L1345.1,906.2 L1346.5,909.6 L1347.8,912.5 L1349.2,915.3 L1350.5,912.4 L1351.9,913.8 L1353.3,922.6 L1354.6,925.7 L1356.0,927.2 L1357.3,928.6 L1358.7,924.3 L1360.0,929.4 L1361.4,929.2 L1362.7,933.6 L1364.1,932.4 L1365.5,935.2 L1366.8,932.7 L1368.2,939.7 L1369.5,938.3 L1370.9,939.3 L1372.2,937.0 L1373.6,944.3 L1374.9,946.2 L1376.3,948.8 L1377.7,942.5 L1379.0,945.8 L1380.4,946.3 L1381.7,945.8 L1383.1,948.9 L1384.4,948.0 L1385.8,953.6 L1387.2,948.5 L1388.5,948.1 L1389.9,949.7 L1391.2,955.9 L1392.6,953.2 L1393.9,950.3 L1395.3,957.3 L1396.6,963.5 L1398.0,959.5 L1399.4,962.2 L1400.7,962.0 L1402.1,965.0 L1403.4,967.8 L1404.8,961.7 L1406.1,972.6 L1407.5,971.8 L1408.8,975.1 L1410.2,977.7 L1411.6,973.0 L1412.9,981.6 L1414.3,979.7 L1415.6,977.8 L1417.0,983.9 L1418.3,992.9 L1419.7,994.2 L1421.0,982.0 L1422.4,985.8 L1423.8,990.8 L1425.1,990.3 L1426.5,989.3 L1427.8,991.0 L1429.2,990.6 L1430.5,999.7 L1431.9,998.9 L1433.3,994.3 L1434.6,998.1 L1436.0,1004.8 L1437.3,1001.0 L1438.7,1005.3 L1440.0,1000.1 L1441.4,1001.7 L1442.7,1014.0 L1444.1,1009.9 L1445.5,1003.9 L1446.8,1013.2 L1448.2,1011.7 L1449.5,1015.7 L1450.9,1014.8 L1452.2,1010.2 L1453.6,1021.4 L1454.9,1020.7 L1456.3,1015.8 L1457.7,1026.2 L1459.0,1027.9 L1460.4,1036.5 L1461.7,1037.4 L1463.1,1035.1 L1464.4,1028.9 L1465.8,1028.1 L1467.1,1034.3 L1468.5,1032.4 L1469.9,1037.6 L1471.2,1043.7 L1472.6,1043.7 L1473.9,1047.4 L1475.3,1047.6 L1476.6,1046.2 L1478.0,1043.6 L1479.3,1042.1 L1480.7,1044.2 L1482.1,1046.6 L1483.4,1052.2 L1484.8,1049.2 L1486.1,1046.4 L1487.5,1046.3 L1488.8,1046.9 L1490.2,1048.4 L1491.6,1059.4 L1492.9,1060.6 L1494.3,1057.6 L1495.6,1058.8 L1497.0,1057.3 L1498.3,1055.0 L1499.7,1054.0 L1501.0,1060.0 L1502.4,1064.9 L1503.8,1068.3 L1505.1,1064.0 L1506.5,1067.5 L1507.8,1064.6 L1509.2,1069.8 L1510.5,1071.6 L1511.9,1075.7 L1513.2,1072.0 L1514.6,1077.8 L1516.0,1081.0 L1517.3,1081.2 L1518.7,1087.2 L1520.0,1088.4 L1521.4,1089.6 L1522.7,1093.6 L1524.1,1086.8 L1525.4,1091.0 L1526.8,1084.7 L1528.2,1088.2 L1529.5,1087.1 L1530.9,1087.9 L1532.2,1093.3 L1533.6,1097.2 L1534.9,1097.2 L1536.3,1098.9 L1537.6,1099.6 L1539.0,1096.8 L1540.4,1098.8 L1541.7,1097.5 L1543.1,1094.6 L1544.4,1101.2 L1545.8,1099.2 L1547.1,1093.8 L1548.5,1093.3 L1549.9,1100.6 L1551.2,1102.0 L1552.6,1101.4 L1553.9,1104.2 L1555.3,1104.0 L1556.6,1104.9 L1558.0,1104.7 L1559.3,1110.8 L1560.7,1116.5 L1562.1,1111.4 L1563.4,1109.1 L1564.8,1110.3 L1566.1,1107.9 L1567.5,1104.1 L1568.8,1098.2 L1570.2,1094.9 L1571.5,1091.5 L1572.9,1090.0 L1574.3,1088.7 L1575.6,1090.9 L1577.0,1093.1 L1578.3,1100.6 L1579.7,1102.9 L1581.0,1108.8 L1582.4,1117.0 L1583.7,1118.7 L1585.1,1122.3 L1586.5,1120.9 L1587.8,1127.4 L1589.2,1132.7 L1590.5,1134.8 L1591.9,1131.6 L1593.2,1137.4 L1594.6,1137.3 L1595.9,1136.6 L1597.3,1135.1 L1598.7,1140.3 L1600.0,1142.0 L1601.4,1139.3 L1602.7,1138.4 L1604.1,1141.9 L1605.4,1138.9 L1606.8,1146.4 L1608.2,1149.7 L1609.5,1151.5 L1610.9,1148.0 L1612.2,1158.4 L1613.6,1154.8 L1614.9,1156.8 L1616.3,1156.5 L1617.6,1157.8 L1619.0,1153.0 L1620.4,1159.2 L1621.7,1156.3 L1623.1,1151.8 L1624.4,1156.2 L1625.8,1164.0 L1627.1,1164.4 L1628.5,1163.0 L1629.8,1158.7 L1631.2,1165.6 L1632.6,1166.1 L1633.9,1162.3 L1635.3,1166.8 L1636.6,1165.0 L1638.0,1163.0 L1639.3,1167.1 L1640.7,1169.4 L1642.0,1165.2 L1643.4,1173.9 L1644.8,1169.5 L1646.1,1170.9 L1647.5,1169.1 L1648.8,1168.2 L1650.2,1169.5 L1651.5,1168.6 L1652.9,1170.8 L1654.3,1173.7 L1655.6,1169.6 L1657.0,1175.0 L1658.3,1178.5 L1659.7,1176.8 L1661.0,1180.2 L1662.4,1182.3 L1663.7,1185.1 L1665.1,1184.2 L1666.5,1182.3 L1667.8,1181.2 L1669.2,1182.4 L1670.5,1183.2 L1671.9,1186.0 L1673.2,1182.2 L1674.6,1181.2 L1675.9,1181.9 L1677.3,1188.3 L1678.7,1194.6 L1680.0,1183.6 L1681.4,1178.8 L1682.7,1178.6 L1684.1,1184.5 L1685.4,1188.1 L1686.8,1189.7 L1688.1,1189.3 L1689.5,1191.2 L1690.9,1193.3 L1692.2,1201.5 L1693.6,1193.2 L1694.9,1190.0 L1696.3,1186.2 L1697.6,1187.4 L1699.0,1189.1 L1700.3,1197.7 L1701.7,1190.1 L1703.1,1189.9 L1704.4,1190.0 L1705.8,1194.6 L1707.1,1196.0 L1708.5,1192.6 L1709.8,1196.2 L1711.2,1198.2 L1712.6,1198.1 L1713.9,1197.1 L1715.3,1200.8 L1716.6,1200.4 L1718.0,1200.3 L1719.3,1200.6 L1720.7,1198.9 L1722.0,1200.0 L1723.4,1201.5 L1724.8,1200.1 L1726.1,1204.4 L1727.5,1200.3 L1728.8,1205.1 L1730.2,1203.7 L1731.5,1202.5 L1732.9,1205.4 L1734.2,1206.2 L1735.6,1210.1 L1737.0,1206.2 L1738.3,1204.8 L1739.7,1209.0 L1741.0,1215.9 L1742.4,1208.8 L1743.7,1213.8 L1745.1,1219.9 L1746.4,1212.7 L1747.8,1216.0 L1749.2,1213.9 L1750.5,1211.6 L1751.9,1212.0 L1753.2,1212.6 L1754.6,1210.9 L1755.9,1213.7 L1757.3,1213.3 L1758.6,1221.5 L1760.0,1222.8 L1761.4,1218.0 L1762.7,1217.0 L1764.1,1220.9 L1765.4,1228.0 L1766.8,1227.1 L1768.1,1223.6 L1769.5,1226.5"/>
<path stroke="#b078de" stroke-width="12.5" d="M142.5,1147.3 L143.9,1145.8 L145.2,1144.9 L146.6,1144.6 L147.9,1144.2 L149.3,1143.7 L150.6,1142.9 L152.0,1143.1 L153.3,1141.6 L154.7,1140.8 L156.1,1139.8 L157.4,1138.7 L158.8,1138.1 L160.1,1137.9 L161.5,1136.3 L162.8,1134.6 L164.2,1134.2 L165.5,1134.4 L166.9,1133.0 L168.3,1132.5 L169.6,1132.4 L171.0,1131.4 L172.3,1129.1 L173.7,1128.9 L175.0,1128.0 L176.4,1127.2 L177.8,1125.9 L179.1,1125.5 L180.5,1125.1 L181.8,1123.7 L183.2,1122.1 L184.5,1121.1 L185.9,1121.6 L187.2,1120.2 L188.6,1118.7 L190.0,1118.4 L191.3,1116.9 L192.7,1115.9 L194.0,1114.6 L195.4,1114.3 L196.7,1113.4 L198.1,1113.0 L199.4,1111.5 L200.8,1110.1 L202.2,1108.8 L203.5,1108.6 L204.9,1107.2 L206.2,1106.4 L207.6,1105.3 L208.9,1105.3 L210.3,1103.4 L211.6,1101.8 L213.0,1101.5 L214.4,1100.7 L215.7,1099.6 L217.1,1099.2 L218.4,1098.4 L219.8,1097.5 L221.1,1097.2 L222.5,1095.3 L223.8,1094.9 L225.2,1093.6 L226.6,1093.0 L227.9,1090.8 L229.3,1090.5 L230.6,1090.5 L232.0,1090.1 L233.3,1088.8 L234.7,1087.4 L236.1,1087.4 L237.4,1087.1 L238.8,1084.7 L240.1,1084.2 L241.5,1083.7 L242.8,1082.8 L244.2,1080.9 L245.5,1080.5 L246.9,1079.7 L248.3,1078.5 L249.6,1077.9 L251.0,1077.1 L252.3,1075.5 L253.7,1075.2 L255.0,1073.3 L256.4,1073.4 L257.7,1071.4 L259.1,1071.2 L260.5,1069.4 L261.8,1068.9 L263.2,1068.4 L264.5,1066.9 L265.9,1066.4 L267.2,1065.0 L268.6,1064.1 L269.9,1063.6 L271.3,1062.9 L272.7,1062.2 L274.0,1061.4 L275.4,1061.6 L276.7,1060.1 L278.1,1058.5 L279.4,1057.4 L280.8,1056.4 L282.2,1055.6 L283.5,1054.2 L284.9,1054.1 L286.2,1052.8 L287.6,1050.9 L288.9,1049.7 L290.3,1049.4 L291.6,1048.3 L293.0,1046.7 L294.4,1045.3 L295.7,1044.2 L297.1,1043.8 L298.4,1042.6 L299.8,1040.8 L301.1,1040.6 L302.5,1038.5 L303.8,1037.9 L305.2,1038.2 L306.6,1037.2 L307.9,1034.7 L309.3,1033.9 L310.6,1033.1 L312.0,1033.0 L313.3,1032.0 L314.7,1031.4 L316.0,1030.3 L317.4,1029.2 L318.8,1027.4 L320.1,1026.5 L321.5,1025.7 L322.8,1024.3 L324.2,1024.6 L325.5,1023.7 L326.9,1021.7 L328.2,1021.8 L329.6,1020.5 L331.0,1020.2 L332.3,1018.9 L333.7,1017.6 L335.0,1016.6 L336.4,1015.5 L337.7,1014.9 L339.1,1013.6 L340.5,1013.6 L341.8,1012.3 L343.2,1011.3 L344.5,1010.7 L345.9,1008.9 L347.2,1007.4 L348.6,1007.9 L349.9,1005.6 L351.3,1004.4 L352.7,1004.1 L354.0,1003.1 L355.4,1001.6 L356.7,999.9 L358.1,999.9 L359.4,998.9 L360.8,997.4 L362.1,996.2 L363.5,995.6 L364.9,994.9 L366.2,993.3 L367.6,992.1 L368.9,991.3 L370.3,988.8 L371.6,989.3 L373.0,987.4 L374.3,986.4 L375.7,985.8 L377.1,984.5 L378.4,983.9 L379.8,983.4 L381.1,981.4 L382.5,980.2 L383.8,979.0 L385.2,978.1 L386.5,976.4 L387.9,974.9 L389.3,973.5 L390.6,972.4 L392.0,971.7 L393.3,969.5 L394.7,968.9 L396.0,967.5 L397.4,966.1 L398.8,964.1 L400.1,963.2 L401.5,963.1 L402.8,961.5 L404.2,961.2 L405.5,959.2 L406.9,957.5 L408.2,957.2 L409.6,955.7 L411.0,955.2 L412.3,954.6 L413.7,953.4 L415.0,952.0 L416.4,950.4 L417.7,949.9 L419.1,949.0 L420.4,947.6 L421.8,946.4 L423.2,945.1 L424.5,944.4 L425.9,943.4 L427.2,942.1 L428.6,941.3 L429.9,940.4 L431.3,939.2 L432.6,938.0 L434.0,936.7 L435.4,936.1 L436.7,934.8 L438.1,934.1 L439.4,932.9 L440.8,932.3 L442.1,930.6 L443.5,929.2 L444.9,928.3 L446.2,927.3 L447.6,926.0 L448.9,924.9 L450.3,924.1 L451.6,922.8 L453.0,921.0 L454.3,919.9 L455.7,920.0 L457.1,918.3 L458.4,917.1 L459.8,916.0 L461.1,915.0 L462.5,914.0 L463.8,913.5 L465.2,912.1 L466.5,910.7 L467.9,909.8 L469.3,909.0 L470.6,907.0 L472.0,907.2 L473.3,905.2 L474.7,904.5 L476.0,904.2 L477.4,903.1 L478.7,902.2 L480.1,901.0 L481.5,899.4 L482.8,899.4 L484.2,899.5 L485.5,897.4 L486.9,895.9 L488.2,894.8 L489.6,893.8 L490.9,892.8 L492.3,892.3 L493.7,890.7 L495.0,890.5 L496.4,888.7 L497.7,887.0 L499.1,886.4 L500.4,885.7 L501.8,884.6 L503.2,883.7 L504.5,882.4 L505.9,881.1 L507.2,880.1 L508.6,878.7 L509.9,877.6 L511.3,876.7 L512.6,874.9 L514.0,875.3 L515.4,873.0 L516.7,872.2 L518.1,871.7 L519.4,870.6 L520.8,870.0 L522.1,868.7 L523.5,867.1 L524.8,866.4 L526.2,865.7 L527.6,865.1 L528.9,863.3 L530.3,862.5 L531.6,861.3 L533.0,859.5 L534.3,857.9 L535.7,857.4 L537.0,856.5 L538.4,854.8 L539.8,854.9 L541.1,854.6 L542.5,853.6 L543.8,851.8 L545.2,850.9 L546.5,849.8 L547.9,849.4 L549.2,848.7 L550.6,847.9 L552.0,846.9 L553.3,846.8 L554.7,845.7 L556.0,844.6 L557.4,843.8 L558.7,843.7 L560.1,842.2 L561.5,841.4 L562.8,839.9 L564.2,839.6 L565.5,838.5 L566.9,836.5 L568.2,836.6 L569.6,834.8 L570.9,833.6 L572.3,833.5 L573.7,832.8 L575.0,831.6 L576.4,830.5 L577.7,829.5 L579.1,828.7 L580.4,827.7 L581.8,826.6 L583.1,826.8 L584.5,825.7 L585.9,825.4 L587.2,825.1 L588.6,824.0 L589.9,823.1 L591.3,821.5 L592.6,820.7 L594.0,820.0 L595.3,819.4 L596.7,819.3 L598.1,817.8 L599.4,817.6 L600.8,817.3 L602.1,816.3 L603.5,815.5 L604.8,813.0 L606.2,812.8 L607.5,812.4 L608.9,811.5 L610.3,810.5 L611.6,809.5 L613.0,808.4 L614.3,807.6 L615.7,807.2 L617.0,805.5 L618.4,804.7 L619.8,804.6 L621.1,803.5 L622.5,802.7 L623.8,801.5 L625.2,800.8 L626.5,800.7 L627.9,798.9 L629.2,798.5 L630.6,798.7 L632.0,798.2 L633.3,797.6 L634.7,797.1 L636.0,795.3 L637.4,794.3 L638.7,794.3 L640.1,793.3 L641.4,792.2 L642.8,792.1 L644.2,791.8 L645.5,791.2 L646.9,790.1 L648.2,788.9 L649.6,789.0 L650.9,787.5 L652.3,786.3 L653.6,785.5 L655.0,785.0 L656.4,784.3 L657.7,784.0 L659.1,783.1 L660.4,783.1 L661.8,783.1 L663.1,782.7 L664.5,782.1 L665.9,781.5 L667.2,782.3 L668.6,781.5 L669.9,781.8 L671.3,782.0 L672.6,779.9 L674.0,780.6 L675.3,780.4 L676.7,779.4 L678.1,779.8 L679.4,779.8 L680.8,779.3 L682.1,779.2 L683.5,778.5 L684.8,778.0 L686.2,778.5 L687.5,777.7 L688.9,776.4 L690.3,775.1 L691.6,775.3 L693.0,774.8 L694.3,774.6 L695.7,775.1 L697.0,774.6 L698.4,774.2 L699.7,774.1 L701.1,775.2 L702.5,775.3 L703.8,774.5 L705.2,773.8 L706.5,774.1 L707.9,773.3 L709.2,772.9 L710.6,773.5 L711.9,773.3 L713.3,773.3 L714.7,773.5 L716.0,773.5 L717.4,773.7 L718.7,773.0 L720.1,773.1 L721.4,773.2 L722.8,773.4 L724.2,772.8 L725.5,771.8 L726.9,770.7 L728.2,771.1 L729.6,770.4 L730.9,770.6 L732.3,770.6 L733.6,769.7 L735.0,769.9 L736.4,770.0 L737.7,768.9 L739.1,768.9 L740.4,768.8 L741.8,767.6 L743.1,767.9 L744.5,768.6 L745.8,768.5 L747.2,768.7 L748.6,767.7 L749.9,767.7 L751.3,767.5 L752.6,767.5 L754.0,767.4 L755.3,767.8 L756.7,768.0 L758.0,768.0 L759.4,767.5 L760.8,767.8 L762.1,767.4 L763.5,767.7 L764.8,768.6 L766.2,769.0 L767.5,768.5 L768.9,767.6 L770.2,768.3 L771.6,769.5 L773.0,769.3 L774.3,769.1 L775.7,769.0 L777.0,768.9 L778.4,768.4 L779.7,768.8 L781.1,768.7 L782.5,769.5 L783.8,770.1 L785.2,769.7 L786.5,769.4 L787.9,769.4 L789.2,769.8 L790.6,770.5 L791.9,770.4 L793.3,768.6 L794.7,768.9 L796.0,770.1 L797.4,768.9 L798.7,767.9 L800.1,767.4 L801.4,766.2 L802.8,765.0 L804.1,766.3 L805.5,765.1 L806.9,766.2 L808.2,766.5 L809.6,766.8 L810.9,766.2 L812.3,767.4 L813.6,767.3 L815.0,767.5 L816.3,768.1 L817.7,768.9 L819.1,769.3 L820.4,770.1 L821.8,771.5 L823.1,772.1 L824.5,771.9 L825.8,773.6 L827.2,773.7 L828.5,774.0 L829.9,776.1 L831.3,776.2 L832.6,775.4 L834.0,776.7 L835.3,777.1 L836.7,777.4 L838.0,777.5 L839.4,776.4 L840.8,776.6 L842.1,778.2 L843.5,777.3 L844.8,777.2 L846.2,777.3 L847.5,777.3 L848.9,778.4 L850.2,778.8 L851.6,778.9 L853.0,779.2 L854.3,779.1 L855.7,780.4 L857.0,781.7 L858.4,782.0 L859.7,781.2 L861.1,782.3 L862.4,783.0 L863.8,783.2 L865.2,782.9 L866.5,783.8 L867.9,785.1 L869.2,785.3 L870.6,785.4 L871.9,786.4 L873.3,787.0 L874.6,786.9 L876.0,788.5 L877.4,789.5 L878.7,789.8 L880.1,788.9 L881.4,791.1 L882.8,792.1 L884.1,790.6 L885.5,791.5 L886.9,793.6 L888.2,794.5 L889.6,792.1 L890.9,793.3 L892.3,794.2 L893.6,795.2 L895.0,796.4 L896.3,798.3 L897.7,798.5 L899.1,799.0 L900.4,798.7 L901.8,800.6 L903.1,801.3 L904.5,801.4 L905.8,802.6 L907.2,802.7 L908.5,802.0 L909.9,802.5 L911.3,805.4 L912.6,805.6 L914.0,805.6 L915.3,808.3 L916.7,806.1 L918.0,806.0 L919.4,806.3 L920.7,806.1 L922.1,807.5 L923.5,807.8 L924.8,808.6 L926.2,806.3 L927.5,808.9 L928.9,810.5 L930.2,811.4 L931.6,810.7 L932.9,811.5 L934.3,811.3 L935.7,810.5 L937.0,815.0 L938.4,815.4 L939.7,815.5 L941.1,817.2 L942.4,816.1 L943.8,816.8 L945.2,820.4 L946.5,820.9 L947.9,823.2 L949.2,822.6 L950.6,824.4 L951.9,823.8 L953.3,824.3 L954.6,824.5 L956.0,826.1 L957.4,826.4 L958.7,825.9 L960.1,826.6 L961.4,829.2 L962.8,828.6 L964.1,829.6 L965.5,829.8 L966.8,832.0 L968.2,832.6 L969.6,835.1 L970.9,835.4 L972.3,836.7 L973.6,835.9 L975.0,838.3 L976.3,836.7 L977.7,840.5 L979.0,841.8 L980.4,843.7 L981.8,842.1 L983.1,844.1 L984.5,843.9 L985.8,846.0 L987.2,847.3 L988.5,847.6 L989.9,847.6 L991.2,850.9 L992.6,852.6 L994.0,852.3 L995.3,854.0 L996.7,854.1 L998.0,854.1 L999.4,854.3 L1000.7,856.8 L1002.1,855.9 L1003.5,856.9 L1004.8,857.4 L1006.2,857.1 L1007.5,859.1 L1008.9,858.0 L1010.2,860.0 L1011.6,858.0 L1012.9,859.1 L1014.3,861.2 L1015.7,863.1 L1017.0,865.1 L1018.4,864.1 L1019.7,865.2 L1021.1,865.5 L1022.4,867.2 L1023.8,869.5 L1025.1,871.8 L1026.5,871.6 L1027.9,872.0 L1029.2,870.3 L1030.6,872.3 L1031.9,872.7 L1033.3,873.8 L1034.6,876.9 L1036.0,876.9 L1037.3,877.0 L1038.7,877.2 L1040.1,879.3 L1041.4,880.8 L1042.8,884.1 L1044.1,883.1 L1045.5,885.3 L1046.8,888.1 L1048.2,886.8 L1049.6,884.9 L1050.9,887.4 L1052.3,891.7 L1053.6,891.3 L1055.0,892.0 L1056.3,894.5 L1057.7,894.4 L1059.0,891.5 L1060.4,896.6 L1061.8,895.5 L1063.1,897.8 L1064.5,899.4 L1065.8,900.0 L1067.2,898.2 L1068.5,901.8 L1069.9,902.0 L1071.2,899.1 L1072.6,901.6 L1074.0,903.3 L1075.3,905.9 L1076.7,904.6 L1078.0,904.3 L1079.4,908.2 L1080.7,911.7 L1082.1,911.7 L1083.4,910.6 L1084.8,911.5 L1086.2,912.9 L1087.5,914.3 L1088.9,916.7 L1090.2,915.5 L1091.6,918.9 L1092.9,921.6 L1094.3,920.5 L1095.6,923.9 L1097.0,923.2 L1098.4,923.3 L1099.7,926.9 L1101.1,924.7 L1102.4,928.6 L1103.8,926.7 L1105.1,928.2 L1106.5,930.9 L1107.9,930.6 L1109.2,931.5 L1110.6,931.1 L1111.9,933.7 L1113.3,936.9 L1114.6,937.3 L1116.0,939.9 L1117.3,939.8 L1118.7,941.7 L1120.1,942.2 L1121.4,945.9 L1122.8,944.6 L1124.1,945.9 L1125.5,948.6 L1126.8,946.2 L1128.2,950.6 L1129.5,951.7 L1130.9,951.7 L1132.3,952.6 L1133.6,953.9 L1135.0,953.1 L1136.3,954.3 L1137.7,953.0 L1139.0,954.1 L1140.4,956.4 L1141.7,956.0 L1143.1,958.5 L1144.5,956.8 L1145.8,956.6 L1147.2,958.3 L1148.5,958.2 L1149.9,962.3 L1151.2,963.8 L1152.6,958.9 L1153.9,962.2 L1155.3,963.1 L1156.7,963.7 L1158.0,963.3 L1159.4,965.7 L1160.7,966.5 L1162.1,968.2 L1163.4,966.6 L1164.8,965.9 L1166.2,967.9 L1167.5,967.7 L1168.9,969.4 L1170.2,974.0 L1171.6,974.0 L1172.9,975.3 L1174.3,979.4 L1175.6,982.4 L1177.0,981.1 L1178.4,981.8 L1179.7,984.3 L1181.1,985.1 L1182.4,989.2 L1183.8,990.6 L1185.1,991.7 L1186.5,993.2 L1187.8,993.5 L1189.2,996.1 L1190.6,993.8 L1191.9,994.6 L1193.3,993.2 L1194.6,993.7 L1196.0,994.7 L1197.3,996.8 L1198.7,997.3 L1200.0,1001.0 L1201.4,1000.5 L1202.8,999.6 L1204.1,999.9 L1205.5,999.5 L1206.8,1002.0 L1208.2,1004.9 L1209.5,1007.2 L1210.9,1009.0 L1212.2,1006.4 L1213.6,1005.1 L1215.0,1008.6 L1216.3,1009.9 L1217.7,1011.2 L1219.0,1014.0 L1220.4,1014.9 L1221.7,1015.2 L1223.1,1015.5 L1224.5,1014.1 L1225.8,1017.4 L1227.2,1018.2 L1228.5,1019.9 L1229.9,1020.5 L1231.2,1024.0 L1232.6,1022.2 L1233.9,1024.3 L1235.3,1026.2 L1236.7,1029.2 L1238.0,1030.9 L1239.4,1031.7 L1240.7,1029.6 L1242.1,1028.9 L1243.4,1033.1 L1244.8,1034.1 L1246.1,1036.7 L1247.5,1037.3 L1248.9,1036.9 L1250.2,1037.6 L1251.6,1039.6 L1252.9,1039.1 L1254.3,1041.1 L1255.6,1039.7 L1257.0,1040.3 L1258.3,1044.0 L1259.7,1043.8 L1261.1,1044.8 L1262.4,1043.9 L1263.8,1043.7 L1265.1,1046.2 L1266.5,1046.7 L1267.8,1049.2 L1269.2,1048.7 L1270.6,1049.7 L1271.9,1052.5 L1273.3,1050.7 L1274.6,1053.6 L1276.0,1054.4 L1277.3,1054.1 L1278.7,1056.3 L1280.0,1060.1 L1281.4,1058.4 L1282.8,1058.3 L1284.1,1059.6 L1285.5,1058.7 L1286.8,1059.0 L1288.2,1061.1 L1289.5,1064.0 L1290.9,1067.5 L1292.2,1065.7 L1293.6,1065.2 L1295.0,1068.1 L1296.3,1068.5 L1297.7,1071.6 L1299.0,1072.8 L1300.4,1072.7 L1301.7,1074.2 L1303.1,1074.8 L1304.4,1073.6 L1305.8,1074.7 L1307.2,1077.3 L1308.5,1080.1 L1309.9,1081.1 L1311.2,1084.5 L1312.6,1085.1 L1313.9,1084.7 L1315.3,1084.2 L1316.6,1083.9 L1318.0,1082.4 L1319.4,1080.1 L1320.7,1081.0 L1322.1,1086.8 L1323.4,1089.3 L1324.8,1086.2 L1326.1,1085.9 L1327.5,1090.8 L1328.9,1089.1 L1330.2,1091.8 L1331.6,1090.3 L1332.9,1086.8 L1334.3,1091.6 L1335.6,1090.1 L1337.0,1093.5 L1338.3,1094.1 L1339.7,1095.6 L1341.1,1094.7 L1342.4,1096.1 L1343.8,1097.9 L1345.1,1095.6 L1346.5,1099.0 L1347.8,1100.0 L1349.2,1104.0 L1350.5,1104.6 L1351.9,1104.3 L1353.3,1104.7 L1354.6,1105.0 L1356.0,1107.9 L1357.3,1105.7 L1358.7,1107.1 L1360.0,1108.2 L1361.4,1105.9 L1362.7,1109.8 L1364.1,1111.5 L1365.5,1109.3 L1366.8,1112.1 L1368.2,1110.9 L1369.5,1112.8 L1370.9,1113.0 L1372.2,1117.1 L1373.6,1115.6 L1374.9,1114.2 L1376.3,1116.4 L1377.7,1116.8 L1379.0,1117.4 L1380.4,1119.5 L1381.7,1119.3 L1383.1,1119.5 L1384.4,1121.3 L1385.8,1122.5 L1387.2,1116.2 L1388.5,1119.0 L1389.9,1121.6 L1391.2,1122.7 L1392.6,1126.6 L1393.9,1128.3 L1395.3,1128.0 L1396.6,1127.0 L1398.0,1129.3 L1399.4,1127.9 L1400.7,1131.0 L1402.1,1128.7 L1403.4,1135.5 L1404.8,1132.2 L1406.1,1134.0 L1407.5,1133.1 L1408.8,1135.9 L1410.2,1133.6 L1411.6,1136.8 L1412.9,1138.3 L1414.3,1140.5 L1415.6,1141.9 L1417.0,1136.3 L1418.3,1140.9 L1419.7,1143.9 L1421.0,1140.4 L1422.4,1139.2 L1423.8,1144.4 L1425.1,1142.9 L1426.5,1141.2 L1427.8,1140.6 L1429.2,1143.7 L1430.5,1145.8 L1431.9,1150.9 L1433.3,1150.4 L1434.6,1152.6 L1436.0,1150.8 L1437.3,1149.6 L1438.7,1152.1 L1440.0,1153.6 L1441.4,1152.3 L1442.7,1153.5 L1444.1,1155.0 L1445.5,1157.5 L1446.8,1157.3 L1448.2,1158.1 L1449.5,1156.6 L1450.9,1156.3 L1452.2,1160.5 L1453.6,1160.2 L1454.9,1162.3 L1456.3,1159.1 L1457.7,1164.9 L1459.0,1166.9 L1460.4,1163.3 L1461.7,1166.8 L1463.1,1164.8 L1464.4,1169.7 L1465.8,1168.8 L1467.1,1173.1 L1468.5,1169.2 L1469.9,1172.0 L1471.2,1171.3 L1472.6,1174.0 L1473.9,1174.4 L1475.3,1171.1 L1476.6,1175.0 L1478.0,1178.8 L1479.3,1177.3 L1480.7,1177.7 L1482.1,1177.2 L1483.4,1179.4 L1484.8,1178.6 L1486.1,1177.3 L1487.5,1181.0 L1488.8,1180.5 L1490.2,1181.4 L1491.6,1185.2 L1492.9,1185.4 L1494.3,1183.9 L1495.6,1181.6 L1497.0,1182.8 L1498.3,1185.3 L1499.7,1185.0 L1501.0,1187.4 L1502.4,1184.3 L1503.8,1189.8 L1505.1,1189.3 L1506.5,1190.3 L1507.8,1190.5 L1509.2,1192.7 L1510.5,1190.5 L1511.9,1192.9 L1513.2,1190.2 L1514.6,1195.8 L1516.0,1194.3 L1517.3,1195.6 L1518.7,1196.1 L1520.0,1192.3 L1521.4,1196.7 L1522.7,1195.4 L1524.1,1194.0 L1525.4,1195.5 L1526.8,1199.6 L1528.2,1195.8 L1529.5,1201.2 L1530.9,1206.2 L1532.2,1201.5 L1533.6,1203.0 L1534.9,1204.4 L1536.3,1201.0 L1537.6,1203.8 L1539.0,1203.5 L1540.4,1204.1 L1541.7,1202.1 L1543.1,1204.0 L1544.4,1206.8 L1545.8,1209.2 L1547.1,1207.4 L1548.5,1204.7 L1549.9,1209.5 L1551.2,1207.5 L1552.6,1207.4 L1553.9,1211.8 L1555.3,1212.5 L1556.6,1211.2 L1558.0,1209.8 L1559.3,1210.5 L1560.7,1212.9 L1562.1,1211.4 L1563.4,1213.9 L1564.8,1214.5 L1566.1,1214.3 L1567.5,1213.3 L1568.8,1213.8 L1570.2,1211.7 L1571.5,1209.6 L1572.9,1208.7 L1574.3,1208.8 L1575.6,1211.5 L1577.0,1214.9 L1578.3,1219.3 L1579.7,1221.2 L1581.0,1220.0 L1582.4,1221.4 L1583.7,1223.2 L1585.1,1224.7 L1586.5,1221.6 L1587.8,1218.6 L1589.2,1223.7 L1590.5,1221.2 L1591.9,1222.2 L1593.2,1224.9 L1594.6,1223.9 L1595.9,1225.6 L1597.3,1222.6 L1598.7,1223.7 L1600.0,1227.0 L1601.4,1226.5 L1602.7,1224.3 L1604.1,1229.3 L1605.4,1229.0 L1606.8,1231.3 L1608.2,1232.8 L1609.5,1231.0 L1610.9,1233.9 L1612.2,1234.1 L1613.6,1237.4 L1614.9,1229.8 L1616.3,1230.5 L1617.6,1235.7 L1619.0,1233.3 L1620.4,1237.6 L1621.7,1233.1 L1623.1,1233.7 L1624.4,1235.9 L1625.8,1239.3 L1627.1,1242.8 L1628.5,1241.0 L1629.8,1239.0 L1631.2,1242.1 L1632.6,1244.9 L1633.9,1243.7 L1635.3,1241.3 L1636.6,1240.5 L1638.0,1240.0 L1639.3,1235.7 L1640.7,1238.6 L1642.0,1237.2 L1643.4,1239.5 L1644.8,1236.5 L1646.1,1239.1 L1647.5,1236.8 L1648.8,1238.0 L1650.2,1240.4 L1651.5,1241.9 L1652.9,1248.0 L1654.3,1250.1 L1655.6,1252.0 L1657.0,1253.6 L1658.3,1254.1 L1659.7,1253.3 L1661.0,1251.6 L1662.4,1249.0 L1663.7,1253.7 L1665.1,1249.1 L1666.5,1247.6 L1667.8,1250.8 L1669.2,1253.6 L1670.5,1249.8 L1671.9,1251.7 L1673.2,1250.3 L1674.6,1251.9 L1675.9,1254.7 L1677.3,1254.9 L1678.7,1253.0 L1680.0,1253.3 L1681.4,1255.9 L1682.7,1255.3 L1684.1,1254.9 L1685.4,1255.9 L1686.8,1254.5 L1688.1,1261.2 L1689.5,1257.5 L1690.9,1261.4 L1692.2,1258.0 L1693.6,1253.0 L1694.9,1255.3 L1696.3,1257.2 L1697.6,1259.1 L1699.0,1259.2 L1700.3,1257.4 L1701.7,1256.1 L1703.1,1260.1 L1704.4,1260.9 L1705.8,1261.0 L1707.1,1263.3 L1708.5,1265.2 L1709.8,1269.0 L1711.2,1262.6 L1712.6,1259.1 L1713.9,1257.5 L1715.3,1256.8 L1716.6,1258.6 L1718.0,1261.1 L1719.3,1267.5 L1720.7,1273.5 L1722.0,1274.4 L1723.4,1268.7 L1724.8,1266.6 L1726.1,1267.3 L1727.5,1269.1 L1728.8,1267.3 L1730.2,1265.6 L1731.5,1267.8 L1732.9,1271.9 L1734.2,1271.5 L1735.6,1268.1 L1737.0,1268.7 L1738.3,1270.7 L1739.7,1267.1 L1741.0,1268.8 L1742.4,1273.4 L1743.7,1275.3 L1745.1,1272.4 L1746.4,1272.0 L1747.8,1273.0 L1749.2,1270.5 L1750.5,1279.6 L1751.9,1276.9 L1753.2,1275.6 L1754.6,1281.0 L1755.9,1277.9 L1757.3,1279.4 L1758.6,1277.9 L1760.0,1272.9 L1761.4,1274.3 L1762.7,1281.2 L1764.1,1279.0 L1765.4,1279.2 L1766.8,1275.6 L1768.1,1277.5 L1769.5,1278.5"/>
<path stroke="#00ffff" stroke-width="11.5" d="M142.5,1336.0 L143.9,1336.4 L145.2,1336.5 L146.6,1335.6 L147.9,1335.3 L149.3,1335.2 L150.6,1336.1 L152.0,1335.9 L153.3,1335.6 L154.7,1335.7 L156.1,1335.3 L157.4,1335.3 L158.8,1335.0 L160.1,1335.4 L161.5,1335.0 L162.8,1335.2 L164.2,1335.4 L165.5,1335.1 L166.9,1335.2 L168.3,1334.6 L169.6,1334.4 L171.0,1334.7 L172.3,1334.7 L173.7,1334.2 L175.0,1334.3 L176.4,1334.8 L177.8,1334.4 L179.1,1334.3 L180.5,1334.2 L181.8,1334.3 L183.2,1334.3 L184.5,1334.3 L185.9,1334.3 L187.2,1334.3 L188.6,1334.2 L190.0,1334.0 L191.3,1333.7 L192.7,1332.8 L194.0,1333.3 L195.4,1333.4 L196.7,1333.3 L198.1,1332.9 L199.4,1333.5 L200.8,1332.9 L202.2,1333.3 L203.5,1333.2 L204.9,1333.3 L206.2,1333.4 L207.6,1333.7 L208.9,1333.6 L210.3,1333.4 L211.6,1333.4 L213.0,1332.9 L214.4,1332.8 L215.7,1332.5 L217.1,1332.6 L218.4,1332.9 L219.8,1332.6 L221.1,1332.4 L222.5,1332.2 L223.8,1332.7 L225.2,1332.4 L226.6,1332.3 L227.9,1332.1 L229.3,1332.1 L230.6,1331.5 L232.0,1331.8 L233.3,1331.7 L234.7,1332.1 L236.1,1332.0 L237.4,1331.6 L238.8,1331.3 L240.1,1331.2 L241.5,1331.5 L242.8,1331.2 L244.2,1331.7 L245.5,1331.1 L246.9,1330.9 L248.3,1330.8 L249.6,1330.5 L251.0,1331.0 L252.3,1330.7 L253.7,1331.1 L255.0,1330.9 L256.4,1330.2 L257.7,1330.2 L259.1,1330.5 L260.5,1330.9 L261.8,1330.4 L263.2,1330.3 L264.5,1329.9 L265.9,1330.5 L267.2,1329.7 L268.6,1330.0 L269.9,1330.1 L271.3,1330.1 L272.7,1330.1 L274.0,1330.2 L275.4,1329.9 L276.7,1329.2 L278.1,1330.0 L279.4,1329.6 L280.8,1329.8 L282.2,1329.5 L283.5,1329.6 L284.9,1329.4 L286.2,1329.2 L287.6,1329.4 L288.9,1328.5 L290.3,1328.7 L291.6,1329.0 L293.0,1329.1 L294.4,1328.7 L295.7,1328.2 L297.1,1328.7 L298.4,1328.4 L299.8,1328.7 L301.1,1328.7 L302.5,1328.5 L303.8,1328.9 L305.2,1328.8 L306.6,1328.1 L307.9,1327.6 L309.3,1328.4 L310.6,1328.9 L312.0,1328.0 L313.3,1328.0 L314.7,1327.6 L316.0,1327.5 L317.4,1328.6 L318.8,1328.1 L320.1,1327.7 L321.5,1327.6 L322.8,1327.1 L324.2,1327.4 L325.5,1328.0 L326.9,1327.9 L328.2,1327.2 L329.6,1326.9 L331.0,1327.2 L332.3,1327.1 L333.7,1326.9 L335.0,1326.7 L336.4,1327.0 L337.7,1326.9 L339.1,1326.7 L340.5,1326.7 L341.8,1326.7 L343.2,1326.3 L344.5,1326.0 L345.9,1325.5 L347.2,1326.2 L348.6,1326.9 L349.9,1326.7 L351.3,1326.2 L352.7,1325.7 L354.0,1325.8 L355.4,1325.7 L356.7,1325.9 L358.1,1325.7 L359.4,1325.8 L360.8,1325.6 L362.1,1325.1 L363.5,1325.9 L364.9,1325.2 L366.2,1324.9 L367.6,1325.0 L368.9,1325.0 L370.3,1325.4 L371.6,1325.3 L373.0,1324.9 L374.3,1325.1 L375.7,1325.6 L377.1,1325.2 L378.4,1324.9 L379.8,1325.0 L381.1,1324.5 L382.5,1325.3 L383.8,1325.2 L385.2,1324.4 L386.5,1324.5 L387.9,1323.7 L389.3,1324.2 L390.6,1324.2 L392.0,1324.2 L393.3,1323.9 L394.7,1324.3 L396.0,1323.7 L397.4,1324.1 L398.8,1323.8 L400.1,1323.1 L401.5,1323.3 L402.8,1324.1 L404.2,1323.2 L405.5,1323.0 L406.9,1323.4 L408.2,1323.0 L409.6,1323.0 L411.0,1322.9 L412.3,1323.2 L413.7,1323.0 L415.0,1323.3 L416.4,1322.5 L417.7,1323.1 L419.1,1323.1 L420.4,1322.8 L421.8,1322.8 L423.2,1322.4 L424.5,1322.1 L425.9,1322.8 L427.2,1322.5 L428.6,1321.9 L429.9,1322.2 L431.3,1322.2 L432.6,1322.3 L434.0,1321.9 L435.4,1321.6 L436.7,1321.4 L438.1,1321.3 L439.4,1321.8 L440.8,1321.8 L442.1,1321.9 L443.5,1321.7 L444.9,1321.3 L446.2,1322.0 L447.6,1321.5 L448.9,1320.7 L450.3,1321.2 L451.6,1321.0 L453.0,1320.9 L454.3,1320.8 L455.7,1321.0 L457.1,1320.5 L458.4,1320.5 L459.8,1320.6 L461.1,1321.0 L462.5,1320.4 L463.8,1320.2 L465.2,1320.7 L466.5,1320.6 L467.9,1320.3 L469.3,1320.0 L470.6,1320.3 L472.0,1320.1 L473.3,1320.0 L474.7,1319.9 L476.0,1319.9 L477.4,1320.0 L478.7,1319.7 L480.1,1318.9 L481.5,1319.2 L482.8,1319.4 L484.2,1319.4 L485.5,1319.1 L486.9,1318.8 L488.2,1319.2 L489.6,1319.4 L490.9,1318.6 L492.3,1318.7 L493.7,1318.6 L495.0,1318.8 L496.4,1318.7 L497.7,1318.2 L499.1,1318.8 L500.4,1318.8 L501.8,1318.4 L503.2,1318.0 L504.5,1317.9 L505.9,1318.1 L507.2,1317.6 L508.6,1318.5 L509.9,1318.0 L511.3,1317.9 L512.6,1317.8 L514.0,1317.9 L515.4,1318.1 L516.7,1317.0 L518.1,1317.6 L519.4,1317.6 L520.8,1317.8 L522.1,1317.7 L523.5,1316.9 L524.8,1316.8 L526.2,1317.5 L527.6,1317.5 L528.9,1317.1 L530.3,1317.2 L531.6,1316.8 L533.0,1317.1 L534.3,1316.8 L535.7,1316.5 L537.0,1316.6 L538.4,1316.5 L539.8,1316.7 L541.1,1316.4 L542.5,1316.3 L543.8,1317.1 L545.2,1316.8 L546.5,1316.2 L547.9,1316.1 L549.2,1315.7 L550.6,1316.3 L552.0,1316.0 L553.3,1316.2 L554.7,1316.2 L556.0,1316.1 L557.4,1316.0 L558.7,1316.0 L560.1,1316.2 L561.5,1315.8 L562.8,1315.6 L564.2,1314.7 L565.5,1314.9 L566.9,1314.7 L568.2,1315.1 L569.6,1315.3 L570.9,1315.2 L572.3,1314.5 L573.7,1315.1 L575.0,1315.1 L576.4,1314.8 L577.7,1314.3 L579.1,1314.5 L580.4,1314.7 L581.8,1314.8 L583.1,1314.2 L584.5,1314.1 L585.9,1314.0 L587.2,1314.2 L588.6,1314.1 L589.9,1314.0 L591.3,1313.8 L592.6,1314.1 L594.0,1314.3 L595.3,1314.1 L596.7,1313.3 L598.1,1313.6 L599.4,1313.9 L600.8,1313.6 L602.1,1313.6 L603.5,1313.8 L604.8,1313.7 L606.2,1313.7 L607.5,1313.9 L608.9,1313.6 L610.3,1313.3 L611.6,1313.2 L613.0,1313.0 L614.3,1313.1 L615.7,1312.9 L617.0,1312.9 L618.4,1312.6 L619.8,1312.4 L621.1,1312.6 L622.5,1312.4 L623.8,1312.1 L625.2,1312.2 L626.5,1312.3 L627.9,1312.0 L629.2,1312.6 L630.6,1312.2 L632.0,1311.7 L633.3,1312.7 L634.7,1312.1 L636.0,1312.4 L637.4,1312.3 L638.7,1312.0 L640.1,1311.6 L641.4,1311.8 L642.8,1311.5 L644.2,1311.9 L645.5,1311.8 L646.9,1311.7 L648.2,1312.4 L649.6,1311.6 L650.9,1311.2 L652.3,1311.4 L653.6,1311.8 L655.0,1312.2 L656.4,1311.7 L657.7,1311.9 L659.1,1311.5 L660.4,1311.5 L661.8,1311.0 L663.1,1310.9 L664.5,1311.7 L665.9,1312.0 L667.2,1312.0 L668.6,1311.8 L669.9,1310.7 L671.3,1311.0 L672.6,1311.0 L674.0,1311.4 L675.3,1311.4 L676.7,1311.8 L678.1,1312.1 L679.4,1312.0 L680.8,1311.7 L682.1,1312.0 L683.5,1311.5 L684.8,1311.7 L686.2,1311.3 L687.5,1311.5 L688.9,1311.8 L690.3,1311.6 L691.6,1311.2 L693.0,1311.4 L694.3,1311.7 L695.7,1311.8 L697.0,1312.3 L698.4,1311.8 L699.7,1311.6 L701.1,1310.9 L702.5,1311.0 L703.8,1310.9 L705.2,1311.7 L706.5,1311.4 L707.9,1310.8 L709.2,1311.2 L710.6,1311.3 L711.9,1311.5 L713.3,1311.4 L714.7,1311.5 L716.0,1311.3 L717.4,1311.3 L718.7,1310.7 L720.1,1310.5 L721.4,1310.9 L722.8,1311.0 L724.2,1310.7 L725.5,1311.4 L726.9,1311.3 L728.2,1311.0 L729.6,1311.2 L730.9,1311.4 L732.3,1310.7 L733.6,1311.2 L735.0,1311.3 L736.4,1311.4 L737.7,1311.4 L739.1,1310.8 L740.4,1311.4 L741.8,1311.5 L743.1,1311.7 L744.5,1310.9 L745.8,1311.2 L747.2,1310.9 L748.6,1310.7 L749.9,1311.4 L751.3,1311.0 L752.6,1311.2 L754.0,1311.1 L755.3,1311.4 L756.7,1311.1 L758.0,1311.2 L759.4,1311.4 L760.8,1310.3 L762.1,1310.8 L763.5,1310.7 L764.8,1311.5 L766.2,1311.6 L767.5,1311.3 L768.9,1311.4 L770.2,1311.4 L771.6,1311.0 L773.0,1311.6 L774.3,1311.9 L775.7,1311.7 L777.0,1311.6 L778.4,1311.3 L779.7,1311.0 L781.1,1311.4 L782.5,1311.1 L783.8,1311.1 L785.2,1311.1 L786.5,1310.9 L787.9,1311.3 L789.2,1311.2 L790.6,1311.2 L791.9,1311.8 L793.3,1311.2 L794.7,1310.8 L796.0,1310.9 L797.4,1311.3 L798.7,1311.8 L800.1,1311.5 L801.4,1311.0 L802.8,1310.7 L804.1,1311.1 L805.5,1311.8 L806.9,1311.7 L808.2,1311.2 L809.6,1311.5 L810.9,1311.3 L812.3,1311.4 L813.6,1311.8 L815.0,1311.9 L816.3,1311.8 L817.7,1311.4 L819.1,1311.8 L820.4,1311.7 L821.8,1311.5 L823.1,1311.3 L824.5,1311.6 L825.8,1311.8 L827.2,1311.8 L828.5,1310.9 L829.9,1311.5 L831.3,1312.5 L832.6,1311.7 L834.0,1312.2 L835.3,1312.4 L836.7,1312.2 L838.0,1312.6 L839.4,1312.0 L840.8,1312.1 L842.1,1312.2 L843.5,1312.5 L844.8,1312.6 L846.2,1313.4 L847.5,1312.6 L848.9,1312.6 L850.2,1313.0 L851.6,1312.7 L853.0,1312.5 L854.3,1313.1 L855.7,1312.4 L857.0,1312.8 L858.4,1312.5 L859.7,1312.6 L861.1,1312.7 L862.4,1313.3 L863.8,1312.7 L865.2,1312.1 L866.5,1312.5 L867.9,1312.5 L869.2,1313.0 L870.6,1313.3 L871.9,1313.3 L873.3,1312.8 L874.6,1312.5 L876.0,1313.2 L877.4,1312.9 L878.7,1312.7 L880.1,1313.7 L881.4,1313.5 L882.8,1313.5 L884.1,1313.6 L885.5,1313.6 L886.9,1313.6 L888.2,1313.8 L889.6,1313.5 L890.9,1313.7 L892.3,1313.6 L893.6,1314.0 L895.0,1314.0 L896.3,1313.9 L897.7,1314.1 L899.1,1314.5 L900.4,1314.6 L901.8,1314.5 L903.1,1314.2 L904.5,1314.7 L905.8,1314.2 L907.2,1314.1 L908.5,1314.9 L909.9,1314.4 L911.3,1314.7 L912.6,1314.8 L914.0,1314.7 L915.3,1314.6 L916.7,1314.6 L918.0,1314.5 L919.4,1314.4 L920.7,1314.3 L922.1,1314.9 L923.5,1315.5 L924.8,1314.8 L926.2,1315.2 L927.5,1315.5 L928.9,1315.8 L930.2,1315.9 L931.6,1315.8 L932.9,1315.4 L934.3,1315.6 L935.7,1315.6 L937.0,1315.4 L938.4,1315.9 L939.7,1315.7 L941.1,1316.2 L942.4,1316.3 L943.8,1315.7 L945.2,1316.4 L946.5,1316.4 L947.9,1316.3 L949.2,1315.5 L950.6,1315.9 L951.9,1316.1 L953.3,1316.2 L954.6,1316.1 L956.0,1316.1 L957.4,1317.0 L958.7,1316.7 L960.1,1316.0 L961.4,1316.4 L962.8,1316.6 L964.1,1316.8 L965.5,1317.0 L966.8,1317.2 L968.2,1317.0 L969.6,1317.2 L970.9,1318.4 L972.3,1317.4 L973.6,1316.8 L975.0,1317.7 L976.3,1317.5 L977.7,1317.3 L979.0,1317.2 L980.4,1318.0 L981.8,1317.6 L983.1,1318.4 L984.5,1318.7 L985.8,1318.6 L987.2,1318.1 L988.5,1319.1 L989.9,1318.1 L991.2,1318.1 L992.6,1318.0 L994.0,1318.4 L995.3,1318.6 L996.7,1318.9 L998.0,1318.6 L999.4,1318.9 L1000.7,1318.7 L1002.1,1318.9 L1003.5,1318.6 L1004.8,1319.1 L1006.2,1319.3 L1007.5,1319.0 L1008.9,1319.1 L1010.2,1318.9 L1011.6,1319.7 L1012.9,1320.3 L1014.3,1319.8 L1015.7,1320.1 L1017.0,1319.9 L1018.4,1319.7 L1019.7,1319.3 L1021.1,1319.8 L1022.4,1319.5 L1023.8,1319.7 L1025.1,1320.1 L1026.5,1319.8 L1027.9,1319.6 L1029.2,1319.8 L1030.6,1320.3 L1031.9,1320.3 L1033.3,1320.6 L1034.6,1321.2 L1036.0,1320.4 L1037.3,1320.9 L1038.7,1320.9 L1040.1,1320.6 L1041.4,1320.6 L1042.8,1320.4 L1044.1,1320.8 L1045.5,1320.5 L1046.8,1320.1 L1048.2,1320.6 L1049.6,1321.2 L1050.9,1321.2 L1052.3,1321.1 L1053.6,1321.3 L1055.0,1321.9 L1056.3,1321.4 L1057.7,1321.7 L1059.0,1321.9 L1060.4,1321.5 L1061.8,1322.2 L1063.1,1322.1 L1064.5,1323.0 L1065.8,1322.4 L1067.2,1322.3 L1068.5,1323.3 L1069.9,1323.3 L1071.2,1322.8 L1072.6,1322.0 L1074.0,1323.1 L1075.3,1322.7 L1076.7,1323.2 L1078.0,1323.3 L1079.4,1323.4 L1080.7,1323.4 L1082.1,1323.3 L1083.4,1323.4 L1084.8,1323.6 L1086.2,1323.4 L1087.5,1323.6 L1088.9,1324.2 L1090.2,1323.6 L1091.6,1324.3 L1092.9,1324.6 L1094.3,1325.4 L1095.6,1325.0 L1097.0,1324.6 L1098.4,1324.8 L1099.7,1324.0 L1101.1,1324.7 L1102.4,1324.6 L1103.8,1325.4 L1105.1,1325.0 L1106.5,1325.1 L1107.9,1324.8 L1109.2,1324.9 L1110.6,1325.1 L1111.9,1325.5 L1113.3,1325.9 L1114.6,1325.5 L1116.0,1325.0 L1117.3,1324.9 L1118.7,1325.9 L1120.1,1326.2 L1121.4,1326.1 L1122.8,1326.0 L1124.1,1326.1 L1125.5,1326.1 L1126.8,1326.6 L1128.2,1326.5 L1129.5,1326.1 L1130.9,1326.2 L1132.3,1325.9 L1133.6,1326.7 L1135.0,1326.6 L1136.3,1326.6 L1137.7,1326.5 L1139.0,1326.6 L1140.4,1327.2 L1141.7,1327.2 L1143.1,1327.3 L1144.5,1327.8 L1145.8,1327.7 L1147.2,1327.2 L1148.5,1327.7 L1149.9,1327.3 L1151.2,1327.9 L1152.6,1327.9 L1153.9,1328.0 L1155.3,1328.0 L1156.7,1327.9 L1158.0,1327.5 L1159.4,1328.5 L1160.7,1328.1 L1162.1,1327.9 L1163.4,1328.3 L1164.8,1328.5 L1166.2,1328.3 L1167.5,1328.3 L1168.9,1328.8 L1170.2,1329.4 L1171.6,1328.9 L1172.9,1328.8 L1174.3,1329.3 L1175.6,1328.9 L1177.0,1328.5 L1178.4,1328.5 L1179.7,1328.9 L1181.1,1329.1 L1182.4,1328.6 L1183.8,1329.3 L1185.1,1329.7 L1186.5,1329.3 L1187.8,1329.6 L1189.2,1330.9 L1190.6,1330.0 L1191.9,1329.4 L1193.3,1329.5 L1194.6,1329.7 L1196.0,1329.8 L1197.3,1330.0 L1198.7,1330.2 L1200.0,1330.1 L1201.4,1330.6 L1202.8,1330.7 L1204.1,1330.8 L1205.5,1330.2 L1206.8,1331.2 L1208.2,1332.0 L1209.5,1331.4 L1210.9,1331.2 L1212.2,1331.3 L1213.6,1332.0 L1215.0,1331.0 L1216.3,1331.9 L1217.7,1331.5 L1219.0,1332.3 L1220.4,1332.3 L1221.7,1332.1 L1223.1,1331.7 L1224.5,1331.2 L1225.8,1331.2 L1227.2,1331.8 L1228.5,1332.8 L1229.9,1332.4 L1231.2,1331.7 L1232.6,1332.3 L1233.9,1332.4 L1235.3,1332.7 L1236.7,1332.6 L1238.0,1332.4 L1239.4,1332.6 L1240.7,1332.7 L1242.1,1333.5 L1243.4,1333.5 L1244.8,1333.5 L1246.1,1333.1 L1247.5,1333.2 L1248.9,1333.0 L1250.2,1333.5 L1251.6,1333.2 L1252.9,1333.4 L1254.3,1333.3 L1255.6,1333.7 L1257.0,1334.2 L1258.3,1333.8 L1259.7,1334.1 L1261.1,1334.1 L1262.4,1334.1 L1263.8,1334.3 L1265.1,1334.1 L1266.5,1334.0 L1267.8,1333.4 L1269.2,1333.6 L1270.6,1334.1 L1271.9,1335.1 L1273.3,1334.7 L1274.6,1334.1 L1276.0,1334.5 L1277.3,1335.1 L1278.7,1334.4 L1280.0,1334.7 L1281.4,1334.9 L1282.8,1334.4 L1284.1,1334.4 L1285.5,1334.1 L1286.8,1334.9 L1288.2,1335.4 L1289.5,1334.9 L1290.9,1335.2 L1292.2,1335.2 L1293.6,1335.1 L1295.0,1335.0 L1296.3,1335.1 L1297.7,1335.1 L1299.0,1335.5 L1300.4,1335.7 L1301.7,1335.6 L1303.1,1336.0 L1304.4,1335.4 L1305.8,1335.6 L1307.2,1335.5 L1308.5,1336.0 L1309.9,1336.3 L1311.2,1335.5 L1312.6,1336.1 L1313.9,1336.6 L1315.3,1336.4 L1316.6,1335.4 L1318.0,1336.9 L1319.4,1336.4 L1320.7,1336.3 L1322.1,1337.2 L1323.4,1336.6 L1324.8,1336.5 L1326.1,1337.2 L1327.5,1337.1 L1328.9,1337.1 L1330.2,1337.0 L1331.6,1337.0 L1332.9,1337.3 L1334.3,1336.6 L1335.6,1336.5 L1337.0,1336.9 L1338.3,1336.9 L1339.7,1337.8 L1341.1,1337.6 L1342.4,1337.5 L1343.8,1337.2 L1345.1,1337.9 L1346.5,1337.8 L1347.8,1337.7 L1349.2,1337.7 L1350.5,1337.8 L1351.9,1337.7 L1353.3,1338.1 L1354.6,1338.6 L1356.0,1339.1 L1357.3,1338.0 L1358.7,1338.3 L1360.0,1339.6 L1361.4,1339.2 L1362.7,1338.5 L1364.1,1338.9 L1365.5,1338.8 L1366.8,1339.4 L1368.2,1339.6 L1369.5,1339.4 L1370.9,1339.7 L1372.2,1339.9 L1373.6,1340.1 L1374.9,1340.0 L1376.3,1339.9 L1377.7,1339.6 L1379.0,1340.7 L1380.4,1340.4 L1381.7,1339.9 L1383.1,1339.9 L1384.4,1341.1 L1385.8,1341.0 L1387.2,1339.9 L1388.5,1340.6 L1389.9,1340.5 L1391.2,1340.4 L1392.6,1340.3 L1393.9,1340.8 L1395.3,1341.6 L1396.6,1340.3 L1398.0,1340.3 L1399.4,1340.4 L1400.7,1340.5 L1402.1,1340.3 L1403.4,1340.5 L1404.8,1340.8 L1406.1,1341.6 L1407.5,1340.4 L1408.8,1340.8 L1410.2,1341.6 L1411.6,1341.1 L1412.9,1341.9 L1414.3,1342.0 L1415.6,1341.7 L1417.0,1342.2 L1418.3,1342.0 L1419.7,1342.2 L1421.0,1341.2 L1422.4,1341.7 L1423.8,1341.5 L1425.1,1341.0 L1426.5,1341.5 L1427.8,1342.0 L1429.2,1341.7 L1430.5,1342.1 L1431.9,1342.6 L1433.3,1342.0 L1434.6,1341.9 L1436.0,1342.1 L1437.3,1342.2 L1438.7,1342.7 L1440.0,1341.4 L1441.4,1342.2 L1442.7,1342.2 L1444.1,1341.9 L1445.5,1343.3 L1446.8,1342.8 L1448.2,1342.4 L1449.5,1343.4 L1450.9,1343.1 L1452.2,1342.6 L1453.6,1343.0 L1454.9,1343.0 L1456.3,1342.4 L1457.7,1342.4 L1459.0,1342.6 L1460.4,1342.7 L1461.7,1343.1 L1463.1,1342.8 L1464.4,1342.6 L1465.8,1343.2 L1467.1,1343.4 L1468.5,1342.7 L1469.9,1342.9 L1471.2,1343.4 L1472.6,1344.2 L1473.9,1343.7 L1475.3,1343.6 L1476.6,1343.6 L1478.0,1343.6 L1479.3,1342.8 L1480.7,1344.0 L1482.1,1344.1 L1483.4,1344.2 L1484.8,1343.4 L1486.1,1343.3 L1487.5,1343.9 L1488.8,1343.7 L1490.2,1343.6 L1491.6,1344.8 L1492.9,1344.0 L1494.3,1344.0 L1495.6,1344.0 L1497.0,1343.5 L1498.3,1343.9 L1499.7,1345.0 L1501.0,1344.3 L1502.4,1344.7 L1503.8,1344.5 L1505.1,1344.5 L1506.5,1344.3 L1507.8,1344.6 L1509.2,1344.4 L1510.5,1345.2 L1511.9,1344.4 L1513.2,1344.3 L1514.6,1343.7 L1516.0,1344.9 L1517.3,1345.1 L1518.7,1345.1 L1520.0,1344.6 L1521.4,1345.0 L1522.7,1345.4 L1524.1,1344.8 L1525.4,1345.6 L1526.8,1345.0 L1528.2,1344.5 L1529.5,1345.4 L1530.9,1345.1 L1532.2,1345.0 L1533.6,1345.4 L1534.9,1345.5 L1536.3,1344.8 L1537.6,1345.1 L1539.0,1345.4 L1540.4,1345.5 L1541.7,1346.0 L1543.1,1345.3 L1544.4,1344.9 L1545.8,1344.7 L1547.1,1345.6 L1548.5,1345.1 L1549.9,1345.1 L1551.2,1344.9 L1552.6,1344.7 L1553.9,1345.4 L1555.3,1345.9 L1556.6,1345.1 L1558.0,1345.6 L1559.3,1345.8 L1560.7,1345.4 L1562.1,1345.5 L1563.4,1345.8 L1564.8,1345.8 L1566.1,1345.6 L1567.5,1346.3 L1568.8,1346.6 L1570.2,1346.4 L1571.5,1346.6 L1572.9,1346.7 L1574.3,1346.8 L1575.6,1346.8 L1577.0,1346.9 L1578.3,1347.0 L1579.7,1347.2 L1581.0,1347.2 L1582.4,1347.8 L1583.7,1347.6 L1585.1,1347.6 L1586.5,1347.5 L1587.8,1347.4 L1589.2,1348.1 L1590.5,1348.1 L1591.9,1348.9 L1593.2,1347.4 L1594.6,1348.8 L1595.9,1348.2 L1597.3,1348.4 L1598.7,1348.1 L1600.0,1348.8 L1601.4,1348.8 L1602.7,1348.6 L1604.1,1348.5 L1605.4,1349.0 L1606.8,1349.5 L1608.2,1348.9 L1609.5,1349.5 L1610.9,1349.5 L1612.2,1349.1 L1613.6,1348.8 L1614.9,1348.0 L1616.3,1349.2 L1617.6,1349.2 L1619.0,1349.6 L1620.4,1349.2 L1621.7,1349.7 L1623.1,1350.2 L1624.4,1349.5 L1625.8,1348.9 L1627.1,1348.6 L1628.5,1350.1 L1629.8,1349.8 L1631.2,1349.7 L1632.6,1349.9 L1633.9,1349.3 L1635.3,1349.0 L1636.6,1350.1 L1638.0,1349.6 L1639.3,1349.9 L1640.7,1350.2 L1642.0,1349.9 L1643.4,1349.8 L1644.8,1351.1 L1646.1,1351.0 L1647.5,1349.9 L1648.8,1349.8 L1650.2,1350.5 L1651.5,1351.1 L1652.9,1350.9 L1654.3,1350.0 L1655.6,1349.7 L1657.0,1350.0 L1658.3,1350.6 L1659.7,1350.4 L1661.0,1350.6 L1662.4,1350.2 L1663.7,1350.6 L1665.1,1350.4 L1666.5,1349.6 L1667.8,1349.9 L1669.2,1349.7 L1670.5,1350.8 L1671.9,1350.4 L1673.2,1350.2 L1674.6,1350.5 L1675.9,1350.3 L1677.3,1350.5 L1678.7,1351.0 L1680.0,1350.2 L1681.4,1350.2 L1682.7,1350.7 L1684.1,1349.7 L1685.4,1351.0 L1686.8,1350.6 L1688.1,1350.0 L1689.5,1350.3 L1690.9,1350.7 L1692.2,1350.7 L1693.6,1350.9 L1694.9,1350.4 L1696.3,1350.9 L1697.6,1351.1 L1699.0,1350.5 L1700.3,1351.0 L1701.7,1350.8 L1703.1,1351.3 L1704.4,1350.2 L1705.8,1351.0 L1707.1,1351.3 L1708.5,1351.2 L1709.8,1351.4 L1711.2,1351.2 L1712.6,1351.7 L1713.9,1350.8 L1715.3,1350.6 L1716.6,1350.4 L1718.0,1350.6 L1719.3,1350.9 L1720.7,1350.6 L1722.0,1351.3 L1723.4,1350.6 L1724.8,1350.3 L1726.1,1351.3 L1727.5,1350.9 L1728.8,1351.1 L1730.2,1351.0 L1731.5,1351.5 L1732.9,1351.3 L1734.2,1350.5 L1735.6,1349.9 L1737.0,1350.5 L1738.3,1350.7 L1739.7,1350.7 L1741.0,1349.8 L1742.4,1351.7 L1743.7,1352.0 L1745.1,1351.5 L1746.4,1351.3 L1747.8,1351.1 L1749.2,1351.2 L1750.5,1350.5 L1751.9,1349.7 L1753.2,1350.9 L1754.6,1351.4 L1755.9,1351.2 L1757.3,1351.6 L1758.6,1351.5 L1760.0,1351.0 L1761.4,1350.4 L1762.7,1350.3 L1764.1,1350.6 L1765.4,1351.0 L1766.8,1351.3 L1768.1,1350.9 L1769.5,1351.7"/>
</g>
<g fill="#000" shape-rendering="crispEdges">
<rect x="140" y="59" width="1632" height="5"/>
<rect x="140" y="1356" width="1632" height="6"/>
<rect x="140" y="59" width="5" height="1303"/>
<rect x="1767" y="59" width="5" height="1303"/>
<rect x="140" y="1360" width="5" height="25"/>
<rect x="276" y="1360" width="5" height="12"/>
<rect x="411" y="1360" width="5" height="25"/>
<rect x="547" y="1360" width="5" height="12"/>
<rect x="682" y="1360" width="5" height="25"/>
<rect x="818" y="1360" width="5" height="12"/>
<rect x="954" y="1360" width="5" height="25"/>
<rect x="1089" y="1360" width="5" height="12"/>
<rect x="1225" y="1360" width="5" height="25"/>
<rect x="1360" y="1360" width="5" height="12"/>
<rect x="1496" y="1360" width="5" height="25"/>
<rect x="1631" y="1360" width="5" height="12"/>
<rect x="1767" y="1360" width="5" height="25"/>
</g>
<g font-size="58.3" text-anchor="middle">
<text x="143.00" y="1448">500</text>
<text x="414.17" y="1448">550</text>
<text x="685.33" y="1448">600</text>
<text x="956.50" y="1448">650</text>
<text x="1227.67" y="1448">700</text>
<text x="1498.83" y="1448">750</text>
<text x="1770.00" y="1448">800</text>
</g>
<text class="b" font-size="68.5" text-anchor="middle" transform="translate(956.3,1555) scale(1,1.025)">Wavelength (nm)</text>
<text class="b" font-size="67.4" text-anchor="middle" transform="translate(86,709.8) rotate(-90) scale(1,1.035)">Intensity (a.u.)</text>
<rect x="1148" y="134" width="164" height="11" rx="3.5" ry="4.5" fill="#ff0000"/>
<text class="b" font-size="67.8" transform="translate(0,163) scale(1,1.04)"><tspan x="1326.3" y="0">1.00 </tspan><tspan x="1478.5" y="-1.8" font-size="62">×</tspan><tspan x="1516.8" y="0"> 10</tspan><tspan font-size="46" x="1611.2" y="-25.96">−2</tspan><tspan y="0"> </tspan><tspan x="1677.4" y="0">M</tspan></text>
<rect x="1148" y="227" width="164" height="11" rx="3.5" ry="4.5" fill="#39ae6c"/>
<text class="b" font-size="67.8" transform="translate(0,256) scale(1,1.04)"><tspan x="1326.3" y="0">4.26 </tspan><tspan x="1478.5" y="-1.8" font-size="62">×</tspan><tspan x="1516.8" y="0"> 10</tspan><tspan font-size="46" x="1611.2" y="-25.96">−3</tspan><tspan y="0"> </tspan><tspan x="1683.3" y="0">M</tspan></text>
<rect x="1148" y="320" width="164" height="12" rx="3.5" ry="4.5" fill="#b078de"/>
<text class="b" font-size="67.8" transform="translate(0,350) scale(1,1.04)"><tspan x="1326.3" y="0">2.84 </tspan><tspan x="1478.5" y="-1.8" font-size="62">×</tspan><tspan x="1516.8" y="0"> 10</tspan><tspan font-size="46" x="1611.2" y="-25.96">−3</tspan><tspan y="0"> </tspan><tspan x="1683.3" y="0">M</tspan></text>
<rect x="1148" y="413" width="164" height="12" rx="3.5" ry="4.5" fill="#00ffff"/>
<text class="b" font-size="67.8" transform="translate(0,443) scale(1,1.04)"><tspan x="1326.3" y="0">7.10 </tspan><tspan x="1478.5" y="-1.8" font-size="62">×</tspan><tspan x="1516.8" y="0"> 10</tspan><tspan font-size="46" x="1611.2" y="-25.96">−4</tspan><tspan y="0"> </tspan><tspan x="1683.3" y="0">M</tspan></text>
</svg></body></html>
